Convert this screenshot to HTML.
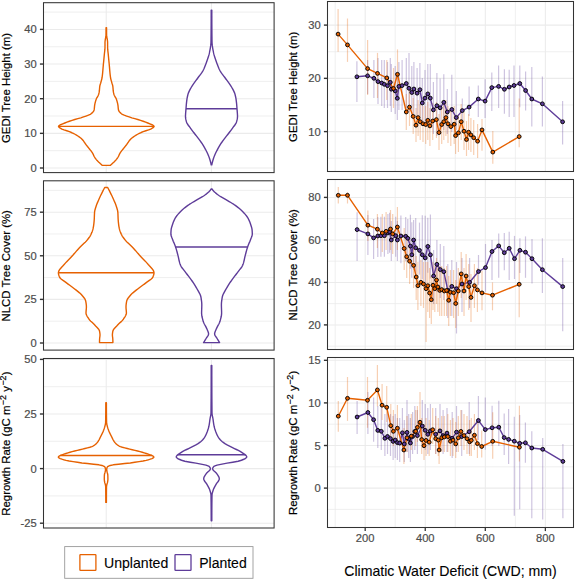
<!DOCTYPE html><html><head><meta charset="utf-8"><style>html,body{margin:0;padding:0;background:#fff;width:575px;height:580px;overflow:hidden}svg{display:block}text{font-family:"Liberation Sans", sans-serif}.tk{stroke:#4D4D4D;stroke-width:0.2px}.tt{stroke:#000;stroke-width:0.2px}.tl{stroke:#000;stroke-width:0.1px}</style></head><body>
<svg width="575" height="580" viewBox="0 0 575 580">
<rect width="575" height="580" fill="#fff"/>
<g>
<line x1="43.5" y1="150.68" x2="274.1" y2="150.68" stroke="#EBEBEB" stroke-width="0.8"/>
<line x1="43.5" y1="116.03" x2="274.1" y2="116.03" stroke="#EBEBEB" stroke-width="0.8"/>
<line x1="43.5" y1="81.38" x2="274.1" y2="81.38" stroke="#EBEBEB" stroke-width="0.8"/>
<line x1="43.5" y1="46.73" x2="274.1" y2="46.73" stroke="#EBEBEB" stroke-width="0.8"/>
<line x1="43.5" y1="12.08" x2="274.1" y2="12.08" stroke="#EBEBEB" stroke-width="0.8"/>
<line x1="43.5" y1="168" x2="274.1" y2="168" stroke="#EBEBEB" stroke-width="1.05"/>
<line x1="43.5" y1="133.35" x2="274.1" y2="133.35" stroke="#EBEBEB" stroke-width="1.05"/>
<line x1="43.5" y1="98.7" x2="274.1" y2="98.7" stroke="#EBEBEB" stroke-width="1.05"/>
<line x1="43.5" y1="64.05" x2="274.1" y2="64.05" stroke="#EBEBEB" stroke-width="1.05"/>
<line x1="43.5" y1="29.4" x2="274.1" y2="29.4" stroke="#EBEBEB" stroke-width="1.05"/>
<line x1="106.2" y1="2.7" x2="106.2" y2="172.6" stroke="#EBEBEB" stroke-width="1.05"/>
<line x1="211.4" y1="2.7" x2="211.4" y2="172.6" stroke="#EBEBEB" stroke-width="1.05"/>
<path d="M106.05,27.8 L106.05,28.67 L106.05,29.53 L106.04,30.4 L106.04,31.26 L106.04,32.13 L106.03,32.99 L106.02,33.86 L106.01,34.72 L106,35.59 L105.91,36.45 L105.75,37.32 L105.55,38.18 L105.37,39.05 L105.25,39.92 L105.13,40.78 L105.04,41.65 L105,42.51 L105,43.38 L105,44.24 L105,45.11 L105,45.97 L105,46.84 L104.99,47.7 L104.95,48.57 L104.89,49.44 L104.8,50.3 L104.71,51.17 L104.61,52.03 L104.51,52.9 L104.41,53.76 L104.32,54.63 L104.24,55.49 L104.15,56.36 L104.07,57.22 L103.99,58.09 L103.91,58.95 L103.82,59.82 L103.74,60.69 L103.66,61.55 L103.57,62.42 L103.49,63.28 L103.4,64.15 L103.32,65.01 L103.24,65.88 L103.16,66.74 L103.08,67.61 L103.01,68.47 L102.94,69.34 L102.87,70.21 L102.8,71.07 L102.72,71.94 L102.65,72.8 L102.56,73.67 L102.47,74.53 L102.37,75.4 L102.26,76.26 L102.14,77.13 L102,77.99 L101.82,78.86 L101.6,79.72 L101.36,80.59 L101.12,81.46 L100.88,82.32 L100.63,83.19 L100.35,84.05 L100.07,84.92 L99.86,85.78 L99.73,86.65 L99.64,87.51 L99.57,88.38 L99.5,89.24 L99.43,90.11 L99.34,90.97 L99.22,91.84 L99.05,92.71 L98.85,93.57 L98.61,94.44 L98.31,95.3 L97.86,96.17 L97.34,97.03 L96.82,97.9 L96.39,98.76 L96.08,99.63 L95.79,100.49 L95.53,101.36 L95.29,102.23 L95.08,103.09 L94.89,103.96 L94.73,104.82 L94.6,105.69 L94.51,106.55 L94.44,107.42 L94.36,108.28 L94.25,109.15 L94.1,110.01 L93.77,110.88 L93.19,111.74 L92.4,112.61 L91.45,113.48 L90.29,114.34 L88.42,115.21 L86.02,116.07 L83.48,116.94 L80.79,117.8 L77.79,118.67 L74.79,119.53 L72.07,120.4 L69.44,121.26 L66.97,122.13 L64.81,122.99 L62.71,123.86 L60.64,124.73 L59.07,125.59 L58.5,126.46 L59.08,127.32 L60.37,128.19 L61.89,129.05 L64.01,129.92 L66.74,130.78 L69.4,131.65 L71.48,132.51 L73.32,133.38 L74.99,134.25 L76.48,135.11 L77.86,135.98 L79.15,136.84 L80.33,137.71 L81.35,138.57 L82.22,139.44 L82.96,140.3 L83.63,141.17 L84.23,142.03 L84.82,142.9 L85.4,143.76 L86.02,144.63 L86.69,145.5 L87.38,146.36 L88.08,147.23 L88.78,148.09 L89.47,148.96 L90.15,149.82 L90.84,150.69 L91.51,151.55 L92.13,152.42 L92.66,153.28 L93.11,154.15 L93.5,155.02 L93.9,155.88 L94.35,156.75 L94.89,157.61 L95.5,158.48 L96.17,159.34 L96.9,160.21 L97.67,161.07 L98.53,161.94 L99.48,162.8 L100.44,163.67 L101.37,164.53 L102.3,165.4 L110.3,165.4 L111.23,164.53 L112.16,163.67 L113.12,162.8 L114.07,161.94 L114.93,161.07 L115.7,160.21 L116.43,159.34 L117.1,158.48 L117.71,157.61 L118.25,156.75 L118.7,155.88 L119.1,155.02 L119.49,154.15 L119.94,153.28 L120.47,152.42 L121.09,151.55 L121.76,150.69 L122.45,149.82 L123.13,148.96 L123.82,148.09 L124.52,147.23 L125.22,146.36 L125.91,145.5 L126.58,144.63 L127.2,143.76 L127.78,142.9 L128.37,142.03 L128.97,141.17 L129.64,140.3 L130.38,139.44 L131.25,138.57 L132.27,137.71 L133.45,136.84 L134.74,135.98 L136.12,135.11 L137.61,134.25 L139.28,133.38 L141.12,132.51 L143.2,131.65 L145.86,130.78 L148.59,129.92 L150.71,129.05 L152.23,128.19 L153.52,127.32 L154.1,126.46 L153.53,125.59 L151.96,124.73 L149.89,123.86 L147.79,122.99 L145.63,122.13 L143.16,121.26 L140.53,120.4 L137.81,119.53 L134.81,118.67 L131.81,117.8 L129.12,116.94 L126.58,116.07 L124.18,115.21 L122.31,114.34 L121.15,113.48 L120.2,112.61 L119.41,111.74 L118.83,110.88 L118.5,110.01 L118.35,109.15 L118.24,108.28 L118.16,107.42 L118.09,106.55 L118,105.69 L117.87,104.82 L117.71,103.96 L117.52,103.09 L117.31,102.23 L117.07,101.36 L116.81,100.49 L116.52,99.63 L116.21,98.76 L115.78,97.9 L115.26,97.03 L114.74,96.17 L114.29,95.3 L113.99,94.44 L113.75,93.57 L113.55,92.71 L113.38,91.84 L113.26,90.97 L113.17,90.11 L113.1,89.24 L113.03,88.38 L112.96,87.51 L112.87,86.65 L112.74,85.78 L112.53,84.92 L112.25,84.05 L111.97,83.19 L111.72,82.32 L111.48,81.46 L111.24,80.59 L111,79.72 L110.78,78.86 L110.6,77.99 L110.46,77.13 L110.34,76.26 L110.23,75.4 L110.13,74.53 L110.04,73.67 L109.95,72.8 L109.88,71.94 L109.8,71.07 L109.73,70.21 L109.66,69.34 L109.59,68.47 L109.52,67.61 L109.44,66.74 L109.36,65.88 L109.28,65.01 L109.2,64.15 L109.11,63.28 L109.03,62.42 L108.94,61.55 L108.86,60.69 L108.78,59.82 L108.69,58.95 L108.61,58.09 L108.53,57.22 L108.45,56.36 L108.36,55.49 L108.28,54.63 L108.19,53.76 L108.09,52.9 L107.99,52.03 L107.89,51.17 L107.8,50.3 L107.71,49.44 L107.65,48.57 L107.61,47.7 L107.6,46.84 L107.6,45.97 L107.6,45.11 L107.6,44.24 L107.6,43.38 L107.6,42.51 L107.56,41.65 L107.47,40.78 L107.35,39.92 L107.23,39.05 L107.05,38.18 L106.85,37.32 L106.69,36.45 L106.6,35.59 L106.59,34.72 L106.58,33.86 L106.57,32.99 L106.56,32.13 L106.56,31.26 L106.56,30.4 L106.55,29.53 L106.55,28.67 L106.55,27.8Z" fill="#fff" stroke="#E66101" stroke-width="1.4" stroke-linejoin="round"/>
<line x1="58.5" y1="126.4" x2="154.1" y2="126.4" stroke="#E66101" stroke-width="1.4"/>
<path d="M211.2,10.1 L211.2,11.07 L211.2,12.05 L211.2,13.02 L211.2,13.99 L211.2,14.97 L211.19,15.94 L211.19,16.92 L211.19,17.89 L211.19,18.86 L211.18,19.84 L211.18,20.81 L211.18,21.78 L211.17,22.76 L211.17,23.73 L211.16,24.7 L211.16,25.68 L211.15,26.65 L211.14,27.62 L211.14,28.6 L211.13,29.57 L211.12,30.55 L211.11,31.52 L211.11,32.49 L211.1,33.47 L211.09,34.44 L211.08,35.41 L211.07,36.39 L211.05,37.36 L211.04,38.33 L211.03,39.31 L211.02,40.28 L211,41.25 L210.98,42.23 L210.93,43.2 L210.85,44.18 L210.75,45.15 L210.62,46.12 L210.48,47.1 L210.32,48.07 L210.15,49.04 L209.97,50.02 L209.79,50.99 L209.6,51.96 L209.41,52.94 L209.19,53.91 L208.94,54.88 L208.66,55.86 L208.35,56.83 L208.03,57.81 L207.7,58.78 L207.35,59.75 L207.01,60.73 L206.66,61.7 L206.32,62.67 L205.98,63.65 L205.63,64.62 L205.26,65.59 L204.88,66.57 L204.48,67.54 L204.06,68.52 L203.61,69.49 L203.12,70.46 L202.59,71.44 L201.97,72.41 L201.29,73.38 L200.56,74.36 L199.81,75.33 L199.06,76.3 L198.32,77.28 L197.62,78.25 L196.92,79.22 L196.2,80.2 L195.47,81.17 L194.75,82.15 L194.03,83.12 L193.34,84.09 L192.67,85.07 L192.04,86.04 L191.46,87.01 L190.92,87.99 L190.38,88.96 L189.85,89.93 L189.35,90.91 L188.89,91.88 L188.47,92.85 L188.12,93.83 L187.85,94.8 L187.62,95.78 L187.41,96.75 L187.22,97.72 L187.05,98.7 L186.89,99.67 L186.76,100.64 L186.63,101.62 L186.52,102.59 L186.42,103.56 L186.33,104.54 L186.25,105.51 L186.17,106.48 L186.09,107.46 L186.02,108.43 L185.94,109.41 L185.86,110.38 L185.78,111.35 L185.7,112.33 L185.63,113.3 L185.57,114.27 L185.52,115.25 L185.5,116.22 L185.52,117.19 L185.62,118.17 L185.78,119.14 L186,120.12 L186.25,121.09 L186.52,122.06 L186.91,123.04 L187.47,124.01 L188.14,124.98 L188.87,125.96 L189.6,126.93 L190.28,127.9 L190.98,128.88 L191.7,129.85 L192.44,130.82 L193.18,131.8 L193.94,132.77 L194.69,133.75 L195.44,134.72 L196.19,135.69 L196.95,136.67 L197.72,137.64 L198.49,138.61 L199.25,139.59 L199.98,140.56 L200.68,141.53 L201.34,142.51 L201.99,143.48 L202.61,144.45 L203.22,145.43 L203.81,146.4 L204.38,147.38 L204.93,148.35 L205.46,149.32 L205.97,150.3 L206.48,151.27 L206.97,152.24 L207.44,153.22 L207.89,154.19 L208.31,155.16 L208.7,156.14 L209.04,157.11 L209.38,158.08 L209.69,159.06 L210,160.03 L210.28,161.01 L210.55,161.98 L210.79,162.95 L211.01,163.93 L211.2,164.9 L211.8,164.9 L211.99,163.93 L212.21,162.95 L212.45,161.98 L212.72,161.01 L213,160.03 L213.31,159.06 L213.62,158.08 L213.96,157.11 L214.3,156.14 L214.69,155.16 L215.11,154.19 L215.56,153.22 L216.03,152.24 L216.52,151.27 L217.03,150.3 L217.54,149.32 L218.07,148.35 L218.62,147.38 L219.19,146.4 L219.78,145.43 L220.39,144.45 L221.01,143.48 L221.66,142.51 L222.32,141.53 L223.02,140.56 L223.75,139.59 L224.51,138.61 L225.28,137.64 L226.05,136.67 L226.81,135.69 L227.56,134.72 L228.31,133.75 L229.06,132.77 L229.82,131.8 L230.56,130.82 L231.3,129.85 L232.02,128.88 L232.72,127.9 L233.4,126.93 L234.13,125.96 L234.86,124.98 L235.53,124.01 L236.09,123.04 L236.48,122.06 L236.75,121.09 L237,120.12 L237.22,119.14 L237.38,118.17 L237.48,117.19 L237.5,116.22 L237.48,115.25 L237.43,114.27 L237.37,113.3 L237.3,112.33 L237.22,111.35 L237.14,110.38 L237.06,109.41 L236.98,108.43 L236.91,107.46 L236.83,106.48 L236.75,105.51 L236.67,104.54 L236.58,103.56 L236.48,102.59 L236.37,101.62 L236.24,100.64 L236.11,99.67 L235.95,98.7 L235.78,97.72 L235.59,96.75 L235.38,95.78 L235.15,94.8 L234.88,93.83 L234.53,92.85 L234.11,91.88 L233.65,90.91 L233.15,89.93 L232.62,88.96 L232.08,87.99 L231.54,87.01 L230.96,86.04 L230.33,85.07 L229.66,84.09 L228.97,83.12 L228.25,82.15 L227.53,81.17 L226.8,80.2 L226.08,79.22 L225.38,78.25 L224.68,77.28 L223.94,76.3 L223.19,75.33 L222.44,74.36 L221.71,73.38 L221.03,72.41 L220.41,71.44 L219.88,70.46 L219.39,69.49 L218.94,68.52 L218.52,67.54 L218.12,66.57 L217.74,65.59 L217.37,64.62 L217.02,63.65 L216.68,62.67 L216.34,61.7 L215.99,60.73 L215.65,59.75 L215.3,58.78 L214.97,57.81 L214.65,56.83 L214.34,55.86 L214.06,54.88 L213.81,53.91 L213.59,52.94 L213.4,51.96 L213.21,50.99 L213.03,50.02 L212.85,49.04 L212.68,48.07 L212.52,47.1 L212.38,46.12 L212.25,45.15 L212.15,44.18 L212.07,43.2 L212.02,42.23 L212,41.25 L211.98,40.28 L211.97,39.31 L211.96,38.33 L211.95,37.36 L211.93,36.39 L211.92,35.41 L211.91,34.44 L211.9,33.47 L211.89,32.49 L211.89,31.52 L211.88,30.55 L211.87,29.57 L211.86,28.6 L211.86,27.62 L211.85,26.65 L211.84,25.68 L211.84,24.7 L211.83,23.73 L211.83,22.76 L211.82,21.78 L211.82,20.81 L211.82,19.84 L211.81,18.86 L211.81,17.89 L211.81,16.92 L211.81,15.94 L211.8,14.97 L211.8,13.99 L211.8,13.02 L211.8,12.05 L211.8,11.07 L211.8,10.1Z" fill="#fff" stroke="#5E3C99" stroke-width="1.4" stroke-linejoin="round"/>
<line x1="186" y1="108.7" x2="237" y2="108.7" stroke="#5E3C99" stroke-width="1.4"/>
<rect x="43.5" y="2.7" width="230.6" height="169.9" fill="none" stroke="#333333" stroke-width="1.05"/>
<line x1="39.9" y1="168" x2="43.5" y2="168" stroke="#333333" stroke-width="1.4"/>
<text class="tk" x="36.7" y="172" font-size="11.2" fill="#4D4D4D" text-anchor="end">0</text>
<line x1="39.9" y1="133.35" x2="43.5" y2="133.35" stroke="#333333" stroke-width="1.4"/>
<text class="tk" x="36.7" y="137.35" font-size="11.2" fill="#4D4D4D" text-anchor="end">10</text>
<line x1="39.9" y1="98.7" x2="43.5" y2="98.7" stroke="#333333" stroke-width="1.4"/>
<text class="tk" x="36.7" y="102.7" font-size="11.2" fill="#4D4D4D" text-anchor="end">20</text>
<line x1="39.9" y1="64.05" x2="43.5" y2="64.05" stroke="#333333" stroke-width="1.4"/>
<text class="tk" x="36.7" y="68.05" font-size="11.2" fill="#4D4D4D" text-anchor="end">30</text>
<line x1="39.9" y1="29.4" x2="43.5" y2="29.4" stroke="#333333" stroke-width="1.4"/>
<text class="tk" x="36.7" y="33.4" font-size="11.2" fill="#4D4D4D" text-anchor="end">40</text>
<text class="tt" transform="translate(10.3,88) rotate(-90)" font-size="11.4" fill="#000" text-anchor="middle">GEDI Tree Height (m)</text>
</g>
<g>
<line x1="43.5" y1="321.2" x2="274.1" y2="321.2" stroke="#EBEBEB" stroke-width="0.8"/>
<line x1="43.5" y1="277.59" x2="274.1" y2="277.59" stroke="#EBEBEB" stroke-width="0.8"/>
<line x1="43.5" y1="233.98" x2="274.1" y2="233.98" stroke="#EBEBEB" stroke-width="0.8"/>
<line x1="43.5" y1="190.37" x2="274.1" y2="190.37" stroke="#EBEBEB" stroke-width="0.8"/>
<line x1="43.5" y1="343" x2="274.1" y2="343" stroke="#EBEBEB" stroke-width="1.05"/>
<line x1="43.5" y1="299.39" x2="274.1" y2="299.39" stroke="#EBEBEB" stroke-width="1.05"/>
<line x1="43.5" y1="255.78" x2="274.1" y2="255.78" stroke="#EBEBEB" stroke-width="1.05"/>
<line x1="43.5" y1="212.18" x2="274.1" y2="212.18" stroke="#EBEBEB" stroke-width="1.05"/>
<line x1="106.2" y1="180.8" x2="106.2" y2="350.1" stroke="#EBEBEB" stroke-width="1.05"/>
<line x1="211.4" y1="180.8" x2="211.4" y2="350.1" stroke="#EBEBEB" stroke-width="1.05"/>
<path d="M104.7,187.5 L104.19,188.48 L103.69,189.45 L103.19,190.43 L102.7,191.4 L102.21,192.38 L101.73,193.35 L101.25,194.33 L100.77,195.3 L100.3,196.28 L99.84,197.25 L99.39,198.23 L98.95,199.21 L98.52,200.18 L98.1,201.16 L97.68,202.13 L97.27,203.11 L96.88,204.08 L96.52,205.06 L96.19,206.03 L95.87,207.01 L95.54,207.98 L95.24,208.96 L94.97,209.94 L94.75,210.91 L94.61,211.89 L94.53,212.86 L94.47,213.84 L94.43,214.81 L94.39,215.79 L94.36,216.76 L94.32,217.74 L94.28,218.72 L94.22,219.69 L94.15,220.67 L94.07,221.64 L93.97,222.62 L93.86,223.59 L93.74,224.57 L93.61,225.54 L93.46,226.52 L93.29,227.49 L93.11,228.47 L92.87,229.45 L92.58,230.42 L92.25,231.4 L91.89,232.37 L91.48,233.35 L91.05,234.32 L90.54,235.3 L89.95,236.27 L89.29,237.25 L88.58,238.22 L87.83,239.2 L87.06,240.18 L86.21,241.15 L85.28,242.13 L84.29,243.1 L83.26,244.08 L82.21,245.05 L81.17,246.03 L80.17,247 L79.22,247.98 L78.33,248.95 L77.46,249.93 L76.61,250.91 L75.78,251.88 L74.95,252.86 L74.11,253.83 L73.27,254.81 L72.4,255.78 L71.49,256.76 L70.55,257.73 L69.59,258.71 L68.61,259.68 L67.65,260.66 L66.7,261.64 L65.8,262.61 L64.94,263.59 L64.13,264.56 L63.25,265.54 L62.33,266.51 L61.42,267.49 L60.55,268.46 L59.78,269.44 L59.14,270.42 L58.67,271.39 L58.43,272.37 L58.42,273.34 L58.58,274.32 L58.85,275.29 L59.2,276.27 L59.62,277.24 L60.34,278.22 L61.41,279.19 L62.7,280.17 L64.11,281.15 L65.52,282.12 L66.82,283.1 L68.09,284.07 L69.41,285.05 L70.75,286.02 L72.08,287 L73.38,287.97 L74.64,288.95 L75.87,289.92 L77.12,290.9 L78.34,291.88 L79.51,292.85 L80.59,293.83 L81.53,294.8 L82.37,295.78 L83.2,296.75 L83.98,297.73 L84.68,298.7 L85.24,299.68 L85.62,300.65 L85.82,301.63 L85.99,302.61 L86.14,303.58 L86.26,304.56 L86.35,305.53 L86.39,306.51 L86.39,307.48 L86.34,308.46 L86.26,309.43 L86.16,310.41 L86.07,311.38 L86.01,312.36 L86.01,313.34 L86.21,314.31 L86.6,315.29 L87.12,316.26 L87.73,317.24 L88.38,318.21 L89.03,319.19 L89.8,320.16 L90.73,321.14 L91.75,322.12 L92.8,323.09 L93.82,324.07 L94.74,325.04 L95.65,326.02 L96.62,326.99 L97.57,327.97 L98.42,328.94 L99.08,329.92 L99.48,330.89 L99.67,331.87 L99.83,332.85 L99.95,333.82 L100,334.8 L99.97,335.77 L99.86,336.75 L99.72,337.72 L99.62,338.7 L99.57,339.67 L99.54,340.65 L99.51,341.62 L99.5,342.6 L112.9,342.6 L112.89,341.62 L112.86,340.65 L112.83,339.67 L112.78,338.7 L112.68,337.72 L112.54,336.75 L112.43,335.77 L112.4,334.8 L112.45,333.82 L112.57,332.85 L112.73,331.87 L112.92,330.89 L113.32,329.92 L113.98,328.94 L114.83,327.97 L115.78,326.99 L116.75,326.02 L117.66,325.04 L118.58,324.07 L119.6,323.09 L120.65,322.12 L121.67,321.14 L122.6,320.16 L123.37,319.19 L124.02,318.21 L124.67,317.24 L125.28,316.26 L125.8,315.29 L126.19,314.31 L126.39,313.34 L126.39,312.36 L126.33,311.38 L126.24,310.41 L126.14,309.43 L126.06,308.46 L126.01,307.48 L126.01,306.51 L126.05,305.53 L126.14,304.56 L126.26,303.58 L126.41,302.61 L126.58,301.63 L126.78,300.65 L127.16,299.68 L127.72,298.7 L128.42,297.73 L129.2,296.75 L130.03,295.78 L130.87,294.8 L131.81,293.83 L132.89,292.85 L134.06,291.88 L135.28,290.9 L136.53,289.92 L137.76,288.95 L139.02,287.97 L140.32,287 L141.65,286.02 L142.99,285.05 L144.31,284.07 L145.58,283.1 L146.88,282.12 L148.29,281.15 L149.7,280.17 L150.99,279.19 L152.06,278.22 L152.78,277.24 L153.2,276.27 L153.55,275.29 L153.82,274.32 L153.98,273.34 L153.97,272.37 L153.73,271.39 L153.26,270.42 L152.62,269.44 L151.85,268.46 L150.98,267.49 L150.07,266.51 L149.15,265.54 L148.27,264.56 L147.46,263.59 L146.6,262.61 L145.7,261.64 L144.75,260.66 L143.79,259.68 L142.81,258.71 L141.85,257.73 L140.91,256.76 L140,255.78 L139.13,254.81 L138.29,253.83 L137.45,252.86 L136.62,251.88 L135.79,250.91 L134.94,249.93 L134.07,248.95 L133.18,247.98 L132.23,247 L131.23,246.03 L130.19,245.05 L129.14,244.08 L128.11,243.1 L127.12,242.13 L126.19,241.15 L125.34,240.18 L124.57,239.2 L123.82,238.22 L123.11,237.25 L122.45,236.27 L121.86,235.3 L121.35,234.32 L120.92,233.35 L120.51,232.37 L120.15,231.4 L119.82,230.42 L119.53,229.45 L119.29,228.47 L119.11,227.49 L118.94,226.52 L118.79,225.54 L118.66,224.57 L118.54,223.59 L118.43,222.62 L118.33,221.64 L118.25,220.67 L118.18,219.69 L118.12,218.72 L118.08,217.74 L118.04,216.76 L118.01,215.79 L117.97,214.81 L117.93,213.84 L117.87,212.86 L117.79,211.89 L117.65,210.91 L117.43,209.94 L117.16,208.96 L116.86,207.98 L116.53,207.01 L116.21,206.03 L115.88,205.06 L115.52,204.08 L115.13,203.11 L114.72,202.13 L114.3,201.16 L113.88,200.18 L113.45,199.21 L113.01,198.23 L112.56,197.25 L112.1,196.28 L111.63,195.3 L111.15,194.33 L110.67,193.35 L110.19,192.38 L109.7,191.4 L109.21,190.43 L108.71,189.45 L108.21,188.48 L107.7,187.5Z" fill="#fff" stroke="#E66101" stroke-width="1.4" stroke-linejoin="round"/>
<line x1="58.4" y1="272.8" x2="154" y2="272.8" stroke="#E66101" stroke-width="1.4"/>
<path d="M211.2,189 L210.47,189.97 L209.63,190.93 L208.7,191.9 L207.68,192.86 L206.53,193.83 L205.29,194.8 L203.94,195.76 L202.46,196.73 L200.77,197.69 L198.98,198.66 L197.24,199.63 L195.61,200.59 L193.99,201.56 L192.38,202.52 L190.82,203.49 L189.31,204.46 L187.9,205.42 L186.58,206.39 L185.32,207.35 L184.12,208.32 L182.97,209.29 L181.88,210.25 L180.87,211.22 L179.92,212.18 L179.02,213.15 L178.16,214.12 L177.34,215.08 L176.59,216.05 L175.9,217.02 L175.31,217.98 L174.79,218.95 L174.31,219.91 L173.88,220.88 L173.48,221.85 L173.11,222.81 L172.77,223.78 L172.45,224.74 L172.12,225.71 L171.81,226.68 L171.53,227.64 L171.3,228.61 L171.14,229.57 L171.06,230.54 L170.99,231.51 L170.94,232.47 L170.91,233.44 L170.92,234.4 L171.07,235.37 L171.34,236.34 L171.7,237.3 L172.11,238.27 L172.51,239.23 L172.87,240.2 L173.24,241.17 L173.64,242.13 L174.05,243.1 L174.46,244.06 L174.86,245.03 L175.24,246 L175.59,246.96 L175.9,247.93 L176.19,248.89 L176.47,249.86 L176.74,250.83 L177.01,251.79 L177.26,252.76 L177.51,253.72 L177.76,254.69 L178.01,255.66 L178.26,256.62 L178.48,257.59 L178.69,258.55 L178.89,259.52 L179.09,260.49 L179.31,261.45 L179.55,262.42 L179.83,263.38 L180.15,264.35 L180.55,265.32 L181.06,266.28 L181.68,267.25 L182.37,268.22 L183.11,269.18 L183.88,270.15 L184.65,271.11 L185.41,272.08 L186.13,273.05 L186.84,274.01 L187.58,274.98 L188.32,275.94 L189.07,276.91 L189.81,277.88 L190.55,278.84 L191.26,279.81 L191.94,280.77 L192.6,281.74 L193.25,282.71 L193.89,283.67 L194.51,284.64 L195.12,285.6 L195.71,286.57 L196.28,287.54 L196.83,288.5 L197.36,289.47 L197.91,290.43 L198.46,291.4 L199.01,292.37 L199.53,293.33 L200,294.3 L200.41,295.26 L200.72,296.23 L200.94,297.2 L201.11,298.16 L201.27,299.13 L201.41,300.09 L201.54,301.06 L201.65,302.03 L201.73,302.99 L201.78,303.96 L201.8,304.92 L201.79,305.89 L201.77,306.86 L201.74,307.82 L201.71,308.79 L201.67,309.75 L201.64,310.72 L201.61,311.69 L201.6,312.65 L201.61,313.62 L201.69,314.58 L201.81,315.55 L201.98,316.52 L202.19,317.48 L202.42,318.45 L202.67,319.42 L202.93,320.38 L203.2,321.35 L203.55,322.31 L203.98,323.28 L204.47,324.25 L204.99,325.21 L205.53,326.18 L206.04,327.14 L206.52,328.11 L206.93,329.08 L207.35,330.04 L207.78,331.01 L208.18,331.97 L208.47,332.94 L208.6,333.91 L208.42,334.87 L207.9,335.84 L207.21,336.8 L206.54,337.77 L205.97,338.74 L205.4,339.7 L204.81,340.67 L204.21,341.63 L203.6,342.6 L219.6,342.6 L218.99,341.63 L218.39,340.67 L217.8,339.7 L217.23,338.74 L216.66,337.77 L215.99,336.8 L215.3,335.84 L214.78,334.87 L214.6,333.91 L214.73,332.94 L215.02,331.97 L215.42,331.01 L215.85,330.04 L216.27,329.08 L216.68,328.11 L217.16,327.14 L217.67,326.18 L218.21,325.21 L218.73,324.25 L219.22,323.28 L219.65,322.31 L220,321.35 L220.27,320.38 L220.53,319.42 L220.78,318.45 L221.01,317.48 L221.22,316.52 L221.39,315.55 L221.51,314.58 L221.59,313.62 L221.6,312.65 L221.59,311.69 L221.56,310.72 L221.53,309.75 L221.49,308.79 L221.46,307.82 L221.43,306.86 L221.41,305.89 L221.4,304.92 L221.42,303.96 L221.47,302.99 L221.55,302.03 L221.66,301.06 L221.79,300.09 L221.93,299.13 L222.09,298.16 L222.26,297.2 L222.48,296.23 L222.79,295.26 L223.2,294.3 L223.67,293.33 L224.19,292.37 L224.74,291.4 L225.29,290.43 L225.84,289.47 L226.37,288.5 L226.92,287.54 L227.49,286.57 L228.08,285.6 L228.69,284.64 L229.31,283.67 L229.95,282.71 L230.6,281.74 L231.26,280.77 L231.94,279.81 L232.65,278.84 L233.39,277.88 L234.13,276.91 L234.88,275.94 L235.62,274.98 L236.36,274.01 L237.07,273.05 L237.79,272.08 L238.55,271.11 L239.32,270.15 L240.09,269.18 L240.83,268.22 L241.52,267.25 L242.14,266.28 L242.65,265.32 L243.05,264.35 L243.37,263.38 L243.65,262.42 L243.89,261.45 L244.11,260.49 L244.31,259.52 L244.51,258.55 L244.72,257.59 L244.94,256.62 L245.19,255.66 L245.44,254.69 L245.69,253.72 L245.94,252.76 L246.19,251.79 L246.46,250.83 L246.73,249.86 L247.01,248.89 L247.3,247.93 L247.61,246.96 L247.96,246 L248.34,245.03 L248.74,244.06 L249.15,243.1 L249.56,242.13 L249.96,241.17 L250.33,240.2 L250.69,239.23 L251.09,238.27 L251.5,237.3 L251.86,236.34 L252.13,235.37 L252.28,234.4 L252.29,233.44 L252.26,232.47 L252.21,231.51 L252.14,230.54 L252.06,229.57 L251.9,228.61 L251.67,227.64 L251.39,226.68 L251.08,225.71 L250.75,224.74 L250.43,223.78 L250.09,222.81 L249.72,221.85 L249.32,220.88 L248.89,219.91 L248.41,218.95 L247.89,217.98 L247.3,217.02 L246.61,216.05 L245.86,215.08 L245.04,214.12 L244.18,213.15 L243.28,212.18 L242.33,211.22 L241.32,210.25 L240.23,209.29 L239.08,208.32 L237.88,207.35 L236.62,206.39 L235.3,205.42 L233.89,204.46 L232.38,203.49 L230.82,202.52 L229.21,201.56 L227.59,200.59 L225.96,199.63 L224.22,198.66 L222.43,197.69 L220.74,196.73 L219.26,195.76 L217.91,194.8 L216.67,193.83 L215.52,192.86 L214.5,191.9 L213.57,190.93 L212.73,189.97 L212,189Z" fill="#fff" stroke="#5E3C99" stroke-width="1.4" stroke-linejoin="round"/>
<line x1="175.6" y1="247" x2="247.6" y2="247" stroke="#5E3C99" stroke-width="1.4"/>
<rect x="43.5" y="180.8" width="230.6" height="169.3" fill="none" stroke="#333333" stroke-width="1.05"/>
<line x1="39.9" y1="343" x2="43.5" y2="343" stroke="#333333" stroke-width="1.4"/>
<text class="tk" x="36.7" y="347" font-size="11.2" fill="#4D4D4D" text-anchor="end">0</text>
<line x1="39.9" y1="299.39" x2="43.5" y2="299.39" stroke="#333333" stroke-width="1.4"/>
<text class="tk" x="36.7" y="303.39" font-size="11.2" fill="#4D4D4D" text-anchor="end">25</text>
<line x1="39.9" y1="255.78" x2="43.5" y2="255.78" stroke="#333333" stroke-width="1.4"/>
<text class="tk" x="36.7" y="259.78" font-size="11.2" fill="#4D4D4D" text-anchor="end">50</text>
<line x1="39.9" y1="212.18" x2="43.5" y2="212.18" stroke="#333333" stroke-width="1.4"/>
<text class="tk" x="36.7" y="216.18" font-size="11.2" fill="#4D4D4D" text-anchor="end">75</text>
<text class="tt" transform="translate(10.3,265.8) rotate(-90)" font-size="11.4" fill="#000" text-anchor="middle">NLCD Tree Cover (%)</text>
</g>
<g>
<line x1="43.5" y1="495.9" x2="274.1" y2="495.9" stroke="#EBEBEB" stroke-width="0.8"/>
<line x1="43.5" y1="441.3" x2="274.1" y2="441.3" stroke="#EBEBEB" stroke-width="0.8"/>
<line x1="43.5" y1="386.7" x2="274.1" y2="386.7" stroke="#EBEBEB" stroke-width="0.8"/>
<line x1="43.5" y1="523.2" x2="274.1" y2="523.2" stroke="#EBEBEB" stroke-width="1.05"/>
<line x1="43.5" y1="468.6" x2="274.1" y2="468.6" stroke="#EBEBEB" stroke-width="1.05"/>
<line x1="43.5" y1="414" x2="274.1" y2="414" stroke="#EBEBEB" stroke-width="1.05"/>
<line x1="43.5" y1="359.4" x2="274.1" y2="359.4" stroke="#EBEBEB" stroke-width="1.05"/>
<line x1="106.2" y1="358.5" x2="106.2" y2="528" stroke="#EBEBEB" stroke-width="1.05"/>
<line x1="211.4" y1="358.5" x2="211.4" y2="528" stroke="#EBEBEB" stroke-width="1.05"/>
<path d="M105.8,402.8 L105.8,403.43 L105.8,404.05 L105.8,404.68 L105.8,405.31 L105.8,405.93 L105.8,406.56 L105.79,407.18 L105.79,407.81 L105.79,408.44 L105.79,409.06 L105.78,409.69 L105.78,410.32 L105.78,410.94 L105.77,411.57 L105.77,412.2 L105.76,412.82 L105.76,413.45 L105.75,414.08 L105.74,414.7 L105.74,415.33 L105.73,415.95 L105.72,416.58 L105.71,417.21 L105.7,417.83 L105.69,418.46 L105.68,419.09 L105.67,419.71 L105.66,420.34 L105.64,420.97 L105.63,421.59 L105.61,422.22 L105.6,422.85 L105.54,423.47 L105.42,424.1 L105.27,424.72 L105.11,425.35 L104.96,425.98 L104.8,426.6 L104.63,427.23 L104.44,427.86 L104.25,428.48 L104.04,429.11 L103.82,429.74 L103.59,430.36 L103.34,430.99 L103.08,431.62 L102.8,432.24 L102.51,432.87 L102.21,433.49 L101.9,434.12 L101.59,434.75 L101.27,435.37 L100.95,436 L100.64,436.63 L100.33,437.25 L100.03,437.88 L99.73,438.51 L99.43,439.13 L99.11,439.76 L98.76,440.38 L98.39,441.01 L97.97,441.64 L97.5,442.26 L96.98,442.89 L96.4,443.52 L95.74,444.14 L94.98,444.77 L94.11,445.4 L93.1,446.02 L91.82,446.65 L89.86,447.28 L87.46,447.9 L84.93,448.53 L82.53,449.15 L79.97,449.78 L77.29,450.41 L74.63,451.03 L72.14,451.66 L69.95,452.29 L67.99,452.91 L65.95,453.54 L63.93,454.17 L62.05,454.79 L60.43,455.42 L59.2,456.05 L58.46,456.67 L58.34,457.3 L58.97,457.92 L60.23,458.55 L61.93,459.18 L63.9,459.8 L66.05,460.43 L69.15,461.06 L73.09,461.68 L77.45,462.31 L81.89,462.94 L87.46,463.56 L93.62,464.19 L98.95,464.82 L102.01,465.44 L103.52,466.07 L104.61,466.69 L105.11,467.32 L105.27,467.95 L105.38,468.57 L105.46,469.2 L105.5,469.83 L105.46,470.45 L105.33,471.08 L105.17,471.71 L105.02,472.33 L104.85,472.96 L104.66,473.58 L104.51,474.21 L104.41,474.84 L104.38,475.46 L104.35,476.09 L104.33,476.72 L104.32,477.34 L104.31,477.97 L104.3,478.6 L104.3,479.22 L104.33,479.85 L104.39,480.48 L104.47,481.1 L104.56,481.73 L104.67,482.35 L104.86,482.98 L105.08,483.61 L105.26,484.23 L105.4,484.86 L105.52,485.49 L105.63,486.11 L105.69,486.74 L105.71,487.37 L105.72,487.99 L105.72,488.62 L105.73,489.25 L105.74,489.87 L105.75,490.5 L105.75,491.12 L105.76,491.75 L105.76,492.38 L105.77,493 L105.77,493.63 L105.78,494.26 L105.78,494.88 L105.78,495.51 L105.79,496.14 L105.79,496.76 L105.79,497.39 L105.79,498.02 L105.8,498.64 L105.8,499.27 L105.8,499.89 L105.8,500.52 L105.8,501.15 L105.8,501.77 L105.8,502.4 L106.4,502.4 L106.4,501.77 L106.4,501.15 L106.4,500.52 L106.4,499.89 L106.4,499.27 L106.4,498.64 L106.41,498.02 L106.41,497.39 L106.41,496.76 L106.41,496.14 L106.42,495.51 L106.42,494.88 L106.42,494.26 L106.43,493.63 L106.43,493 L106.44,492.38 L106.44,491.75 L106.45,491.12 L106.45,490.5 L106.46,489.87 L106.47,489.25 L106.48,488.62 L106.48,487.99 L106.49,487.37 L106.51,486.74 L106.57,486.11 L106.68,485.49 L106.8,484.86 L106.94,484.23 L107.12,483.61 L107.34,482.98 L107.53,482.35 L107.64,481.73 L107.73,481.1 L107.81,480.48 L107.87,479.85 L107.9,479.22 L107.9,478.6 L107.89,477.97 L107.88,477.34 L107.87,476.72 L107.85,476.09 L107.82,475.46 L107.79,474.84 L107.69,474.21 L107.54,473.58 L107.35,472.96 L107.18,472.33 L107.03,471.71 L106.87,471.08 L106.74,470.45 L106.7,469.83 L106.74,469.2 L106.82,468.57 L106.93,467.95 L107.09,467.32 L107.59,466.69 L108.68,466.07 L110.19,465.44 L113.25,464.82 L118.58,464.19 L124.74,463.56 L130.31,462.94 L134.75,462.31 L139.11,461.68 L143.05,461.06 L146.15,460.43 L148.3,459.8 L150.27,459.18 L151.97,458.55 L153.23,457.92 L153.86,457.3 L153.74,456.67 L153,456.05 L151.77,455.42 L150.15,454.79 L148.27,454.17 L146.25,453.54 L144.21,452.91 L142.25,452.29 L140.06,451.66 L137.57,451.03 L134.91,450.41 L132.23,449.78 L129.67,449.15 L127.27,448.53 L124.74,447.9 L122.34,447.28 L120.38,446.65 L119.1,446.02 L118.09,445.4 L117.22,444.77 L116.46,444.14 L115.8,443.52 L115.22,442.89 L114.7,442.26 L114.23,441.64 L113.81,441.01 L113.44,440.38 L113.09,439.76 L112.77,439.13 L112.47,438.51 L112.17,437.88 L111.87,437.25 L111.56,436.63 L111.25,436 L110.93,435.37 L110.61,434.75 L110.3,434.12 L109.99,433.49 L109.69,432.87 L109.4,432.24 L109.12,431.62 L108.86,430.99 L108.61,430.36 L108.38,429.74 L108.16,429.11 L107.95,428.48 L107.76,427.86 L107.57,427.23 L107.4,426.6 L107.24,425.98 L107.09,425.35 L106.93,424.72 L106.78,424.1 L106.66,423.47 L106.6,422.85 L106.59,422.22 L106.57,421.59 L106.56,420.97 L106.54,420.34 L106.53,419.71 L106.52,419.09 L106.51,418.46 L106.5,417.83 L106.49,417.21 L106.48,416.58 L106.47,415.95 L106.46,415.33 L106.46,414.7 L106.45,414.08 L106.44,413.45 L106.44,412.82 L106.43,412.2 L106.43,411.57 L106.42,410.94 L106.42,410.32 L106.42,409.69 L106.41,409.06 L106.41,408.44 L106.41,407.81 L106.41,407.18 L106.4,406.56 L106.4,405.93 L106.4,405.31 L106.4,404.68 L106.4,404.05 L106.4,403.43 L106.4,402.8Z" fill="#fff" stroke="#E66101" stroke-width="1.4" stroke-linejoin="round"/>
<line x1="60.25" y1="455.5" x2="151.95" y2="455.5" stroke="#E66101" stroke-width="1.4"/>
<path d="M211.2,365.5 L211.2,366.48 L211.2,367.45 L211.2,368.43 L211.2,369.41 L211.2,370.38 L211.2,371.36 L211.2,372.34 L211.2,373.31 L211.2,374.29 L211.2,375.27 L211.19,376.24 L211.19,377.22 L211.19,378.2 L211.19,379.17 L211.19,380.15 L211.19,381.13 L211.19,382.1 L211.18,383.08 L211.18,384.06 L211.18,385.03 L211.18,386.01 L211.17,386.99 L211.17,387.96 L211.17,388.94 L211.16,389.92 L211.16,390.89 L211.16,391.87 L211.15,392.85 L211.15,393.83 L211.14,394.8 L211.14,395.78 L211.13,396.76 L211.13,397.73 L211.12,398.71 L211.11,399.69 L211.11,400.66 L211.1,401.64 L211.09,402.62 L211.09,403.59 L211.08,404.57 L211.07,405.55 L211.06,406.52 L211.05,407.5 L211.05,408.48 L211.04,409.45 L211.03,410.43 L211.02,411.41 L211.01,412.38 L210.99,413.36 L210.89,414.34 L210.73,415.31 L210.52,416.29 L210.31,417.27 L210.13,418.24 L209.98,419.22 L209.84,420.2 L209.71,421.17 L209.58,422.15 L209.44,423.13 L209.29,424.1 L209.12,425.08 L208.92,426.06 L208.7,427.03 L208.44,428.01 L208.15,428.99 L207.83,429.96 L207.49,430.94 L207.13,431.92 L206.74,432.89 L206.34,433.87 L205.89,434.85 L205.4,435.82 L204.85,436.8 L204.24,437.78 L203.56,438.75 L202.75,439.73 L201.78,440.71 L200.66,441.68 L199.43,442.66 L198.05,443.64 L196.37,444.62 L194.46,445.59 L192.45,446.57 L190.49,447.55 L188.59,448.52 L186.61,449.5 L184.65,450.48 L182.85,451.45 L181.31,452.43 L179.81,453.41 L178.33,454.38 L177.09,455.36 L176.33,456.34 L176.31,457.31 L177.34,458.29 L179.2,459.27 L181.57,460.24 L184.82,461.22 L190.25,462.2 L195.87,463.17 L201,464.15 L205.97,465.13 L208.63,466.1 L209.67,467.08 L210.33,468.06 L210.48,469.03 L209.94,470.01 L208.94,470.99 L207.78,471.96 L206.77,472.94 L206.08,473.92 L205.41,474.89 L204.76,475.87 L204.22,476.85 L203.84,477.82 L203.7,478.8 L203.89,479.78 L204.38,480.75 L205.06,481.73 L205.81,482.71 L206.52,483.68 L207.1,484.66 L207.65,485.64 L208.21,486.61 L208.74,487.59 L209.22,488.57 L209.61,489.54 L209.94,490.52 L210.25,491.5 L210.54,492.47 L210.78,493.45 L210.94,494.43 L211,495.41 L211.02,496.38 L211.04,497.36 L211.05,498.34 L211.07,499.31 L211.08,500.29 L211.09,501.27 L211.11,502.24 L211.12,503.22 L211.13,504.2 L211.14,505.17 L211.15,506.15 L211.15,507.13 L211.16,508.1 L211.17,509.08 L211.17,510.06 L211.18,511.03 L211.18,512.01 L211.19,512.99 L211.19,513.96 L211.19,514.94 L211.2,515.92 L211.2,516.89 L211.2,517.87 L211.2,518.85 L211.2,519.82 L211.2,520.8 L211.8,520.8 L211.8,519.82 L211.8,518.85 L211.8,517.87 L211.8,516.89 L211.8,515.92 L211.81,514.94 L211.81,513.96 L211.81,512.99 L211.82,512.01 L211.82,511.03 L211.83,510.06 L211.83,509.08 L211.84,508.1 L211.85,507.13 L211.85,506.15 L211.86,505.17 L211.87,504.2 L211.88,503.22 L211.89,502.24 L211.91,501.27 L211.92,500.29 L211.93,499.31 L211.95,498.34 L211.96,497.36 L211.98,496.38 L212,495.41 L212.06,494.43 L212.22,493.45 L212.46,492.47 L212.75,491.5 L213.06,490.52 L213.39,489.54 L213.78,488.57 L214.26,487.59 L214.79,486.61 L215.35,485.64 L215.9,484.66 L216.48,483.68 L217.19,482.71 L217.94,481.73 L218.62,480.75 L219.11,479.78 L219.3,478.8 L219.16,477.82 L218.78,476.85 L218.24,475.87 L217.59,474.89 L216.92,473.92 L216.23,472.94 L215.22,471.96 L214.06,470.99 L213.06,470.01 L212.52,469.03 L212.67,468.06 L213.33,467.08 L214.37,466.1 L217.03,465.13 L222,464.15 L227.13,463.17 L232.75,462.2 L238.18,461.22 L241.43,460.24 L243.8,459.27 L245.66,458.29 L246.69,457.31 L246.67,456.34 L245.91,455.36 L244.67,454.38 L243.19,453.41 L241.69,452.43 L240.15,451.45 L238.35,450.48 L236.39,449.5 L234.41,448.52 L232.51,447.55 L230.55,446.57 L228.54,445.59 L226.63,444.62 L224.95,443.64 L223.57,442.66 L222.34,441.68 L221.22,440.71 L220.25,439.73 L219.44,438.75 L218.76,437.78 L218.15,436.8 L217.6,435.82 L217.11,434.85 L216.66,433.87 L216.26,432.89 L215.87,431.92 L215.51,430.94 L215.17,429.96 L214.85,428.99 L214.56,428.01 L214.3,427.03 L214.08,426.06 L213.88,425.08 L213.71,424.1 L213.56,423.13 L213.42,422.15 L213.29,421.17 L213.16,420.2 L213.02,419.22 L212.87,418.24 L212.69,417.27 L212.48,416.29 L212.27,415.31 L212.11,414.34 L212.01,413.36 L211.99,412.38 L211.98,411.41 L211.97,410.43 L211.96,409.45 L211.95,408.48 L211.95,407.5 L211.94,406.52 L211.93,405.55 L211.92,404.57 L211.91,403.59 L211.91,402.62 L211.9,401.64 L211.89,400.66 L211.89,399.69 L211.88,398.71 L211.87,397.73 L211.87,396.76 L211.86,395.78 L211.86,394.8 L211.85,393.83 L211.85,392.85 L211.84,391.87 L211.84,390.89 L211.84,389.92 L211.83,388.94 L211.83,387.96 L211.83,386.99 L211.82,386.01 L211.82,385.03 L211.82,384.06 L211.82,383.08 L211.81,382.1 L211.81,381.13 L211.81,380.15 L211.81,379.17 L211.81,378.2 L211.81,377.22 L211.81,376.24 L211.8,375.27 L211.8,374.29 L211.8,373.31 L211.8,372.34 L211.8,371.36 L211.8,370.38 L211.8,369.41 L211.8,368.43 L211.8,367.45 L211.8,366.48 L211.8,365.5Z" fill="#fff" stroke="#5E3C99" stroke-width="1.4" stroke-linejoin="round"/>
<line x1="177.89" y1="454.7" x2="245.11" y2="454.7" stroke="#5E3C99" stroke-width="1.4"/>
<rect x="43.5" y="358.5" width="230.6" height="169.5" fill="none" stroke="#333333" stroke-width="1.05"/>
<line x1="39.9" y1="523.2" x2="43.5" y2="523.2" stroke="#333333" stroke-width="1.4"/>
<text class="tk" x="36.7" y="527.2" font-size="11.2" fill="#4D4D4D" text-anchor="end">-25</text>
<line x1="39.9" y1="468.6" x2="43.5" y2="468.6" stroke="#333333" stroke-width="1.4"/>
<text class="tk" x="36.7" y="472.6" font-size="11.2" fill="#4D4D4D" text-anchor="end">0</text>
<line x1="39.9" y1="414" x2="43.5" y2="414" stroke="#333333" stroke-width="1.4"/>
<text class="tk" x="36.7" y="418" font-size="11.2" fill="#4D4D4D" text-anchor="end">25</text>
<line x1="39.9" y1="359.4" x2="43.5" y2="359.4" stroke="#333333" stroke-width="1.4"/>
<text class="tk" x="36.7" y="363.4" font-size="11.2" fill="#4D4D4D" text-anchor="end">50</text>
<text class="tt" transform="translate(10.3,443.6) rotate(-90)" font-size="11.4" fill="#000" text-anchor="middle">Regrowth Rate (gC m<tspan font-size="8.8" dx="0.4" dy="-4.4">−2</tspan><tspan dx="0.3" dy="4.4"> y</tspan><tspan font-size="8.8" dx="0.4" dy="-4.4">−2</tspan><tspan dx="0.3" dy="4.4">)</tspan></text>
</g>
<g>
<line x1="327.5" y1="158.22" x2="573.5" y2="158.22" stroke="#EBEBEB" stroke-width="0.8"/>
<line x1="327.5" y1="104.97" x2="573.5" y2="104.97" stroke="#EBEBEB" stroke-width="0.8"/>
<line x1="327.5" y1="51.72" x2="573.5" y2="51.72" stroke="#EBEBEB" stroke-width="0.8"/>
<line x1="335.16" y1="1.5" x2="335.16" y2="171.5" stroke="#EBEBEB" stroke-width="0.8"/>
<line x1="395.22" y1="1.5" x2="395.22" y2="171.5" stroke="#EBEBEB" stroke-width="0.8"/>
<line x1="455.28" y1="1.5" x2="455.28" y2="171.5" stroke="#EBEBEB" stroke-width="0.8"/>
<line x1="515.34" y1="1.5" x2="515.34" y2="171.5" stroke="#EBEBEB" stroke-width="0.8"/>
<line x1="327.5" y1="131.6" x2="573.5" y2="131.6" stroke="#EBEBEB" stroke-width="1.05"/>
<line x1="327.5" y1="78.35" x2="573.5" y2="78.35" stroke="#EBEBEB" stroke-width="1.05"/>
<line x1="327.5" y1="25.1" x2="573.5" y2="25.1" stroke="#EBEBEB" stroke-width="1.05"/>
<line x1="365.19" y1="1.5" x2="365.19" y2="171.5" stroke="#EBEBEB" stroke-width="1.05"/>
<line x1="425.25" y1="1.5" x2="425.25" y2="171.5" stroke="#EBEBEB" stroke-width="1.05"/>
<line x1="485.31" y1="1.5" x2="485.31" y2="171.5" stroke="#EBEBEB" stroke-width="1.05"/>
<line x1="545.37" y1="1.5" x2="545.37" y2="171.5" stroke="#EBEBEB" stroke-width="1.05"/>
<line x1="356.9" y1="61.2" x2="356.9" y2="102" stroke="#5E3C99" stroke-width="1.2" stroke-opacity="0.3"/>
<line x1="367.6" y1="60.1" x2="367.6" y2="94" stroke="#5E3C99" stroke-width="1.2" stroke-opacity="0.3"/>
<line x1="373.9" y1="60" x2="373.9" y2="98" stroke="#5E3C99" stroke-width="1.2" stroke-opacity="0.3"/>
<line x1="378" y1="58" x2="378" y2="104" stroke="#5E3C99" stroke-width="1.2" stroke-opacity="0.3"/>
<line x1="381.7" y1="60" x2="381.7" y2="106" stroke="#5E3C99" stroke-width="1.2" stroke-opacity="0.3"/>
<line x1="384.3" y1="60" x2="384.3" y2="108" stroke="#5E3C99" stroke-width="1.2" stroke-opacity="0.3"/>
<line x1="387.5" y1="62" x2="387.5" y2="108" stroke="#5E3C99" stroke-width="1.2" stroke-opacity="0.3"/>
<line x1="390.3" y1="58" x2="390.3" y2="106" stroke="#5E3C99" stroke-width="1.2" stroke-opacity="0.3"/>
<line x1="391.3" y1="64" x2="391.3" y2="112" stroke="#5E3C99" stroke-width="1.2" stroke-opacity="0.3"/>
<line x1="395.2" y1="66" x2="395.2" y2="114" stroke="#5E3C99" stroke-width="1.2" stroke-opacity="0.3"/>
<line x1="397.3" y1="74" x2="397.3" y2="120" stroke="#5E3C99" stroke-width="1.2" stroke-opacity="0.3"/>
<line x1="398.9" y1="62" x2="398.9" y2="110" stroke="#5E3C99" stroke-width="1.2" stroke-opacity="0.3"/>
<line x1="402.1" y1="60" x2="402.1" y2="110" stroke="#5E3C99" stroke-width="1.2" stroke-opacity="0.3"/>
<line x1="406.3" y1="58" x2="406.3" y2="108" stroke="#5E3C99" stroke-width="1.2" stroke-opacity="0.3"/>
<line x1="409" y1="53" x2="409" y2="112" stroke="#5E3C99" stroke-width="1.2" stroke-opacity="0.3"/>
<line x1="411.8" y1="66" x2="411.8" y2="118" stroke="#5E3C99" stroke-width="1.2" stroke-opacity="0.3"/>
<line x1="413.9" y1="62" x2="413.9" y2="114" stroke="#5E3C99" stroke-width="1.2" stroke-opacity="0.3"/>
<line x1="417.1" y1="68" x2="417.1" y2="118" stroke="#5E3C99" stroke-width="1.2" stroke-opacity="0.3"/>
<line x1="419.9" y1="63" x2="419.9" y2="116" stroke="#5E3C99" stroke-width="1.2" stroke-opacity="0.3"/>
<line x1="422.3" y1="78" x2="422.3" y2="126" stroke="#5E3C99" stroke-width="1.2" stroke-opacity="0.3"/>
<line x1="425" y1="70" x2="425" y2="124" stroke="#5E3C99" stroke-width="1.2" stroke-opacity="0.3"/>
<line x1="427.8" y1="64" x2="427.8" y2="122" stroke="#5E3C99" stroke-width="1.2" stroke-opacity="0.3"/>
<line x1="430.3" y1="64" x2="430.3" y2="128" stroke="#5E3C99" stroke-width="1.2" stroke-opacity="0.3"/>
<line x1="433.4" y1="82" x2="433.4" y2="134" stroke="#5E3C99" stroke-width="1.2" stroke-opacity="0.3"/>
<line x1="436.9" y1="72.9" x2="436.9" y2="136" stroke="#5E3C99" stroke-width="1.2" stroke-opacity="0.3"/>
<line x1="440.1" y1="78.4" x2="440.1" y2="134" stroke="#5E3C99" stroke-width="1.2" stroke-opacity="0.3"/>
<line x1="443.8" y1="74.3" x2="443.8" y2="130" stroke="#5E3C99" stroke-width="1.2" stroke-opacity="0.3"/>
<line x1="447.3" y1="88.9" x2="447.3" y2="134" stroke="#5E3C99" stroke-width="1.2" stroke-opacity="0.3"/>
<line x1="451.8" y1="74.7" x2="451.8" y2="132" stroke="#5E3C99" stroke-width="1.2" stroke-opacity="0.3"/>
<line x1="456.3" y1="91" x2="456.3" y2="130" stroke="#5E3C99" stroke-width="1.2" stroke-opacity="0.3"/>
<line x1="462.3" y1="98.6" x2="462.3" y2="123.5" stroke="#5E3C99" stroke-width="1.2" stroke-opacity="0.3"/>
<line x1="469.1" y1="86.5" x2="469.1" y2="116" stroke="#5E3C99" stroke-width="1.2" stroke-opacity="0.3"/>
<line x1="478.3" y1="85.5" x2="478.3" y2="116.9" stroke="#5E3C99" stroke-width="1.2" stroke-opacity="0.3"/>
<line x1="485.1" y1="79.3" x2="485.1" y2="117.9" stroke="#5E3C99" stroke-width="1.2" stroke-opacity="0.3"/>
<line x1="491.8" y1="72.5" x2="491.8" y2="111.1" stroke="#5E3C99" stroke-width="1.2" stroke-opacity="0.3"/>
<line x1="498.6" y1="65.4" x2="498.6" y2="107.9" stroke="#5E3C99" stroke-width="1.2" stroke-opacity="0.3"/>
<line x1="504.4" y1="69.3" x2="504.4" y2="113.7" stroke="#5E3C99" stroke-width="1.2" stroke-opacity="0.3"/>
<line x1="509.2" y1="69.7" x2="509.2" y2="116.9" stroke="#5E3C99" stroke-width="1.2" stroke-opacity="0.3"/>
<line x1="514" y1="65.4" x2="514" y2="116.9" stroke="#5E3C99" stroke-width="1.2" stroke-opacity="0.3"/>
<line x1="519.8" y1="65.4" x2="519.8" y2="107.3" stroke="#5E3C99" stroke-width="1.2" stroke-opacity="0.3"/>
<line x1="525.6" y1="71.6" x2="525.6" y2="110.6" stroke="#5E3C99" stroke-width="1.2" stroke-opacity="0.3"/>
<line x1="531.8" y1="67.1" x2="531.8" y2="126.6" stroke="#5E3C99" stroke-width="1.2" stroke-opacity="0.3"/>
<line x1="542.4" y1="76.4" x2="542.4" y2="126.6" stroke="#5E3C99" stroke-width="1.2" stroke-opacity="0.3"/>
<line x1="562.6" y1="100.9" x2="562.6" y2="144.5" stroke="#5E3C99" stroke-width="1.2" stroke-opacity="0.3"/>
<line x1="338.1" y1="9" x2="338.1" y2="51.8" stroke="#E66101" stroke-width="1.2" stroke-opacity="0.3"/>
<line x1="347.5" y1="18.5" x2="347.5" y2="61.9" stroke="#E66101" stroke-width="1.2" stroke-opacity="0.3"/>
<line x1="367.6" y1="40.1" x2="367.6" y2="95" stroke="#E66101" stroke-width="1.2" stroke-opacity="0.3"/>
<line x1="377.5" y1="52.9" x2="377.5" y2="98" stroke="#E66101" stroke-width="1.2" stroke-opacity="0.3"/>
<line x1="386.8" y1="60" x2="386.8" y2="100" stroke="#E66101" stroke-width="1.2" stroke-opacity="0.3"/>
<line x1="393.5" y1="68" x2="393.5" y2="108" stroke="#E66101" stroke-width="1.2" stroke-opacity="0.3"/>
<line x1="397.5" y1="49.4" x2="397.5" y2="100" stroke="#E66101" stroke-width="1.2" stroke-opacity="0.3"/>
<line x1="406.3" y1="94" x2="406.3" y2="130" stroke="#E66101" stroke-width="1.2" stroke-opacity="0.3"/>
<line x1="409.5" y1="90" x2="409.5" y2="126" stroke="#E66101" stroke-width="1.2" stroke-opacity="0.3"/>
<line x1="413.2" y1="98" x2="413.2" y2="134" stroke="#E66101" stroke-width="1.2" stroke-opacity="0.3"/>
<line x1="416" y1="108" x2="416" y2="142" stroke="#E66101" stroke-width="1.2" stroke-opacity="0.3"/>
<line x1="418.1" y1="100" x2="418.1" y2="136" stroke="#E66101" stroke-width="1.2" stroke-opacity="0.3"/>
<line x1="420.2" y1="104" x2="420.2" y2="140" stroke="#E66101" stroke-width="1.2" stroke-opacity="0.3"/>
<line x1="423" y1="106" x2="423" y2="142" stroke="#E66101" stroke-width="1.2" stroke-opacity="0.3"/>
<line x1="425.7" y1="106" x2="425.7" y2="144" stroke="#E66101" stroke-width="1.2" stroke-opacity="0.3"/>
<line x1="427.8" y1="102" x2="427.8" y2="140" stroke="#E66101" stroke-width="1.2" stroke-opacity="0.3"/>
<line x1="429.9" y1="108" x2="429.9" y2="146" stroke="#E66101" stroke-width="1.2" stroke-opacity="0.3"/>
<line x1="432.7" y1="103" x2="432.7" y2="140" stroke="#E66101" stroke-width="1.2" stroke-opacity="0.3"/>
<line x1="436.4" y1="102" x2="436.4" y2="138" stroke="#E66101" stroke-width="1.2" stroke-opacity="0.3"/>
<line x1="439" y1="114" x2="439" y2="150" stroke="#E66101" stroke-width="1.2" stroke-opacity="0.3"/>
<line x1="441.7" y1="106" x2="441.7" y2="144" stroke="#E66101" stroke-width="1.2" stroke-opacity="0.3"/>
<line x1="443.8" y1="103" x2="443.8" y2="140" stroke="#E66101" stroke-width="1.2" stroke-opacity="0.3"/>
<line x1="445.9" y1="100" x2="445.9" y2="136" stroke="#E66101" stroke-width="1.2" stroke-opacity="0.3"/>
<line x1="448" y1="106" x2="448" y2="143" stroke="#E66101" stroke-width="1.2" stroke-opacity="0.3"/>
<line x1="450.8" y1="108" x2="450.8" y2="146" stroke="#E66101" stroke-width="1.2" stroke-opacity="0.3"/>
<line x1="454.2" y1="106" x2="454.2" y2="144" stroke="#E66101" stroke-width="1.2" stroke-opacity="0.3"/>
<line x1="455.6" y1="116" x2="455.6" y2="154" stroke="#E66101" stroke-width="1.2" stroke-opacity="0.3"/>
<line x1="458.4" y1="114" x2="458.4" y2="152" stroke="#E66101" stroke-width="1.2" stroke-opacity="0.3"/>
<line x1="461.2" y1="104" x2="461.2" y2="140" stroke="#E66101" stroke-width="1.2" stroke-opacity="0.3"/>
<line x1="464" y1="112" x2="464" y2="150" stroke="#E66101" stroke-width="1.2" stroke-opacity="0.3"/>
<line x1="466.5" y1="121" x2="466.5" y2="156" stroke="#E66101" stroke-width="1.2" stroke-opacity="0.3"/>
<line x1="468.6" y1="114" x2="468.6" y2="150" stroke="#E66101" stroke-width="1.2" stroke-opacity="0.3"/>
<line x1="470.9" y1="118" x2="470.9" y2="152" stroke="#E66101" stroke-width="1.2" stroke-opacity="0.3"/>
<line x1="473.7" y1="120" x2="473.7" y2="155" stroke="#E66101" stroke-width="1.2" stroke-opacity="0.3"/>
<line x1="477.6" y1="124" x2="477.6" y2="158" stroke="#E66101" stroke-width="1.2" stroke-opacity="0.3"/>
<line x1="482" y1="118.9" x2="482" y2="150.7" stroke="#E66101" stroke-width="1.2" stroke-opacity="0.3"/>
<line x1="492.8" y1="131" x2="492.8" y2="163.8" stroke="#E66101" stroke-width="1.2" stroke-opacity="0.3"/>
<line x1="519.2" y1="98.6" x2="519.2" y2="147.2" stroke="#E66101" stroke-width="1.2" stroke-opacity="0.3"/>
<polyline points="356.9,76.8 367.6,75.8 373.9,78.3 378,81.6 381.7,83 384.3,84.3 387.5,85.7 390.3,82.3 391.3,89.2 395.2,90.9 397.3,98.3 398.9,86.4 402.1,85.6 406.3,83.5 409,88.3 411.8,92.5 413.9,89 417.1,93.2 419.9,89.7 422.3,103 425,98.1 427.8,93.9 430.3,98.1 433.4,109.9 436.9,105.7 440.1,107.8 443.8,102.3 447.3,112 451.8,109.5 456.3,117.6 462.3,110.6 469.1,107.1 478.3,99 485.1,101.1 491.8,87.6 498.6,86.4 504.4,89.3 509.2,87 514,85.5 519.8,83.5 525.6,90.5 531.8,99 542.4,103.8 562.6,121.8" fill="none" stroke="#5E3C99" stroke-width="1.4" stroke-linejoin="round"/>
<polyline points="338.1,34.1 347.5,44.9 367.6,68.6 377.5,73.4 386.8,77.9 393.5,88.5 397.5,74.3 406.3,112 409.5,107.1 413.2,116.4 416,125.2 418.1,117.6 420.2,121.7 423,123.8 425.7,124.5 427.8,120.3 429.9,125.9 432.7,121 436.4,119.6 439,132.6 441.7,124.5 443.8,121.7 445.9,117.6 448,123.8 450.8,126.6 454.2,124.2 455.6,135.6 458.4,132.9 461.2,121.7 464,131.2 466.5,139.5 468.6,132.2 470.9,134.9 473.7,137.7 477.6,141.2 482,129.9 492.8,152.1 519.2,136.6" fill="none" stroke="#E66101" stroke-width="1.4" stroke-linejoin="round"/>
<circle cx="356.9" cy="76.8" r="1.9" fill="#5E3C99" stroke="#000" stroke-width="0.95"/>
<circle cx="367.6" cy="75.8" r="1.9" fill="#5E3C99" stroke="#000" stroke-width="0.95"/>
<circle cx="373.9" cy="78.3" r="1.9" fill="#5E3C99" stroke="#000" stroke-width="0.95"/>
<circle cx="378" cy="81.6" r="1.9" fill="#5E3C99" stroke="#000" stroke-width="0.95"/>
<circle cx="381.7" cy="83" r="1.9" fill="#5E3C99" stroke="#000" stroke-width="0.95"/>
<circle cx="384.3" cy="84.3" r="1.9" fill="#5E3C99" stroke="#000" stroke-width="0.95"/>
<circle cx="387.5" cy="85.7" r="1.9" fill="#5E3C99" stroke="#000" stroke-width="0.95"/>
<circle cx="390.3" cy="82.3" r="1.9" fill="#5E3C99" stroke="#000" stroke-width="0.95"/>
<circle cx="391.3" cy="89.2" r="1.9" fill="#5E3C99" stroke="#000" stroke-width="0.95"/>
<circle cx="395.2" cy="90.9" r="1.9" fill="#5E3C99" stroke="#000" stroke-width="0.95"/>
<circle cx="397.3" cy="98.3" r="1.9" fill="#5E3C99" stroke="#000" stroke-width="0.95"/>
<circle cx="398.9" cy="86.4" r="1.9" fill="#5E3C99" stroke="#000" stroke-width="0.95"/>
<circle cx="402.1" cy="85.6" r="1.9" fill="#5E3C99" stroke="#000" stroke-width="0.95"/>
<circle cx="406.3" cy="83.5" r="1.9" fill="#5E3C99" stroke="#000" stroke-width="0.95"/>
<circle cx="409" cy="88.3" r="1.9" fill="#5E3C99" stroke="#000" stroke-width="0.95"/>
<circle cx="411.8" cy="92.5" r="1.9" fill="#5E3C99" stroke="#000" stroke-width="0.95"/>
<circle cx="413.9" cy="89" r="1.9" fill="#5E3C99" stroke="#000" stroke-width="0.95"/>
<circle cx="417.1" cy="93.2" r="1.9" fill="#5E3C99" stroke="#000" stroke-width="0.95"/>
<circle cx="419.9" cy="89.7" r="1.9" fill="#5E3C99" stroke="#000" stroke-width="0.95"/>
<circle cx="422.3" cy="103" r="1.9" fill="#5E3C99" stroke="#000" stroke-width="0.95"/>
<circle cx="425" cy="98.1" r="1.9" fill="#5E3C99" stroke="#000" stroke-width="0.95"/>
<circle cx="427.8" cy="93.9" r="1.9" fill="#5E3C99" stroke="#000" stroke-width="0.95"/>
<circle cx="430.3" cy="98.1" r="1.9" fill="#5E3C99" stroke="#000" stroke-width="0.95"/>
<circle cx="433.4" cy="109.9" r="1.9" fill="#5E3C99" stroke="#000" stroke-width="0.95"/>
<circle cx="436.9" cy="105.7" r="1.9" fill="#5E3C99" stroke="#000" stroke-width="0.95"/>
<circle cx="440.1" cy="107.8" r="1.9" fill="#5E3C99" stroke="#000" stroke-width="0.95"/>
<circle cx="443.8" cy="102.3" r="1.9" fill="#5E3C99" stroke="#000" stroke-width="0.95"/>
<circle cx="447.3" cy="112" r="1.9" fill="#5E3C99" stroke="#000" stroke-width="0.95"/>
<circle cx="451.8" cy="109.5" r="1.9" fill="#5E3C99" stroke="#000" stroke-width="0.95"/>
<circle cx="456.3" cy="117.6" r="1.9" fill="#5E3C99" stroke="#000" stroke-width="0.95"/>
<circle cx="462.3" cy="110.6" r="1.9" fill="#5E3C99" stroke="#000" stroke-width="0.95"/>
<circle cx="469.1" cy="107.1" r="1.9" fill="#5E3C99" stroke="#000" stroke-width="0.95"/>
<circle cx="478.3" cy="99" r="1.9" fill="#5E3C99" stroke="#000" stroke-width="0.95"/>
<circle cx="485.1" cy="101.1" r="1.9" fill="#5E3C99" stroke="#000" stroke-width="0.95"/>
<circle cx="491.8" cy="87.6" r="1.9" fill="#5E3C99" stroke="#000" stroke-width="0.95"/>
<circle cx="498.6" cy="86.4" r="1.9" fill="#5E3C99" stroke="#000" stroke-width="0.95"/>
<circle cx="504.4" cy="89.3" r="1.9" fill="#5E3C99" stroke="#000" stroke-width="0.95"/>
<circle cx="509.2" cy="87" r="1.9" fill="#5E3C99" stroke="#000" stroke-width="0.95"/>
<circle cx="514" cy="85.5" r="1.9" fill="#5E3C99" stroke="#000" stroke-width="0.95"/>
<circle cx="519.8" cy="83.5" r="1.9" fill="#5E3C99" stroke="#000" stroke-width="0.95"/>
<circle cx="525.6" cy="90.5" r="1.9" fill="#5E3C99" stroke="#000" stroke-width="0.95"/>
<circle cx="531.8" cy="99" r="1.9" fill="#5E3C99" stroke="#000" stroke-width="0.95"/>
<circle cx="542.4" cy="103.8" r="1.9" fill="#5E3C99" stroke="#000" stroke-width="0.95"/>
<circle cx="562.6" cy="121.8" r="1.9" fill="#5E3C99" stroke="#000" stroke-width="0.95"/>
<circle cx="338.1" cy="34.1" r="1.9" fill="#E66101" stroke="#000" stroke-width="0.95"/>
<circle cx="347.5" cy="44.9" r="1.9" fill="#E66101" stroke="#000" stroke-width="0.95"/>
<circle cx="367.6" cy="68.6" r="1.9" fill="#E66101" stroke="#000" stroke-width="0.95"/>
<circle cx="377.5" cy="73.4" r="1.9" fill="#E66101" stroke="#000" stroke-width="0.95"/>
<circle cx="386.8" cy="77.9" r="1.9" fill="#E66101" stroke="#000" stroke-width="0.95"/>
<circle cx="393.5" cy="88.5" r="1.9" fill="#E66101" stroke="#000" stroke-width="0.95"/>
<circle cx="397.5" cy="74.3" r="1.9" fill="#E66101" stroke="#000" stroke-width="0.95"/>
<circle cx="406.3" cy="112" r="1.9" fill="#E66101" stroke="#000" stroke-width="0.95"/>
<circle cx="409.5" cy="107.1" r="1.9" fill="#E66101" stroke="#000" stroke-width="0.95"/>
<circle cx="413.2" cy="116.4" r="1.9" fill="#E66101" stroke="#000" stroke-width="0.95"/>
<circle cx="416" cy="125.2" r="1.9" fill="#E66101" stroke="#000" stroke-width="0.95"/>
<circle cx="418.1" cy="117.6" r="1.9" fill="#E66101" stroke="#000" stroke-width="0.95"/>
<circle cx="420.2" cy="121.7" r="1.9" fill="#E66101" stroke="#000" stroke-width="0.95"/>
<circle cx="423" cy="123.8" r="1.9" fill="#E66101" stroke="#000" stroke-width="0.95"/>
<circle cx="425.7" cy="124.5" r="1.9" fill="#E66101" stroke="#000" stroke-width="0.95"/>
<circle cx="427.8" cy="120.3" r="1.9" fill="#E66101" stroke="#000" stroke-width="0.95"/>
<circle cx="429.9" cy="125.9" r="1.9" fill="#E66101" stroke="#000" stroke-width="0.95"/>
<circle cx="432.7" cy="121" r="1.9" fill="#E66101" stroke="#000" stroke-width="0.95"/>
<circle cx="436.4" cy="119.6" r="1.9" fill="#E66101" stroke="#000" stroke-width="0.95"/>
<circle cx="439" cy="132.6" r="1.9" fill="#E66101" stroke="#000" stroke-width="0.95"/>
<circle cx="441.7" cy="124.5" r="1.9" fill="#E66101" stroke="#000" stroke-width="0.95"/>
<circle cx="443.8" cy="121.7" r="1.9" fill="#E66101" stroke="#000" stroke-width="0.95"/>
<circle cx="445.9" cy="117.6" r="1.9" fill="#E66101" stroke="#000" stroke-width="0.95"/>
<circle cx="448" cy="123.8" r="1.9" fill="#E66101" stroke="#000" stroke-width="0.95"/>
<circle cx="450.8" cy="126.6" r="1.9" fill="#E66101" stroke="#000" stroke-width="0.95"/>
<circle cx="454.2" cy="124.2" r="1.9" fill="#E66101" stroke="#000" stroke-width="0.95"/>
<circle cx="455.6" cy="135.6" r="1.9" fill="#E66101" stroke="#000" stroke-width="0.95"/>
<circle cx="458.4" cy="132.9" r="1.9" fill="#E66101" stroke="#000" stroke-width="0.95"/>
<circle cx="461.2" cy="121.7" r="1.9" fill="#E66101" stroke="#000" stroke-width="0.95"/>
<circle cx="464" cy="131.2" r="1.9" fill="#E66101" stroke="#000" stroke-width="0.95"/>
<circle cx="466.5" cy="139.5" r="1.9" fill="#E66101" stroke="#000" stroke-width="0.95"/>
<circle cx="468.6" cy="132.2" r="1.9" fill="#E66101" stroke="#000" stroke-width="0.95"/>
<circle cx="470.9" cy="134.9" r="1.9" fill="#E66101" stroke="#000" stroke-width="0.95"/>
<circle cx="473.7" cy="137.7" r="1.9" fill="#E66101" stroke="#000" stroke-width="0.95"/>
<circle cx="477.6" cy="141.2" r="1.9" fill="#E66101" stroke="#000" stroke-width="0.95"/>
<circle cx="482" cy="129.9" r="1.9" fill="#E66101" stroke="#000" stroke-width="0.95"/>
<circle cx="492.8" cy="152.1" r="1.9" fill="#E66101" stroke="#000" stroke-width="0.95"/>
<circle cx="519.2" cy="136.6" r="1.9" fill="#E66101" stroke="#000" stroke-width="0.95"/>
<rect x="327.5" y="1.5" width="246" height="170" fill="none" stroke="#333333" stroke-width="1.05"/>
<line x1="323.9" y1="131.6" x2="327.5" y2="131.6" stroke="#333333" stroke-width="1.4"/>
<text class="tk" x="320.7" y="135.6" font-size="11.2" fill="#4D4D4D" text-anchor="end">10</text>
<line x1="323.9" y1="78.35" x2="327.5" y2="78.35" stroke="#333333" stroke-width="1.4"/>
<text class="tk" x="320.7" y="82.35" font-size="11.2" fill="#4D4D4D" text-anchor="end">20</text>
<line x1="323.9" y1="25.1" x2="327.5" y2="25.1" stroke="#333333" stroke-width="1.4"/>
<text class="tk" x="320.7" y="29.1" font-size="11.2" fill="#4D4D4D" text-anchor="end">30</text>
<text class="tt" transform="translate(297.4,86.85) rotate(-90)" font-size="11.4" fill="#000" text-anchor="middle">GEDI Tree Height (m)</text>
</g>
<g>
<line x1="327.5" y1="346.15" x2="573.5" y2="346.15" stroke="#EBEBEB" stroke-width="0.8"/>
<line x1="327.5" y1="303.65" x2="573.5" y2="303.65" stroke="#EBEBEB" stroke-width="0.8"/>
<line x1="327.5" y1="261.15" x2="573.5" y2="261.15" stroke="#EBEBEB" stroke-width="0.8"/>
<line x1="327.5" y1="218.65" x2="573.5" y2="218.65" stroke="#EBEBEB" stroke-width="0.8"/>
<line x1="335.16" y1="179.5" x2="335.16" y2="349.5" stroke="#EBEBEB" stroke-width="0.8"/>
<line x1="395.22" y1="179.5" x2="395.22" y2="349.5" stroke="#EBEBEB" stroke-width="0.8"/>
<line x1="455.28" y1="179.5" x2="455.28" y2="349.5" stroke="#EBEBEB" stroke-width="0.8"/>
<line x1="515.34" y1="179.5" x2="515.34" y2="349.5" stroke="#EBEBEB" stroke-width="0.8"/>
<line x1="327.5" y1="324.9" x2="573.5" y2="324.9" stroke="#EBEBEB" stroke-width="1.05"/>
<line x1="327.5" y1="282.4" x2="573.5" y2="282.4" stroke="#EBEBEB" stroke-width="1.05"/>
<line x1="327.5" y1="239.9" x2="573.5" y2="239.9" stroke="#EBEBEB" stroke-width="1.05"/>
<line x1="327.5" y1="197.4" x2="573.5" y2="197.4" stroke="#EBEBEB" stroke-width="1.05"/>
<line x1="365.19" y1="179.5" x2="365.19" y2="349.5" stroke="#EBEBEB" stroke-width="1.05"/>
<line x1="425.25" y1="179.5" x2="425.25" y2="349.5" stroke="#EBEBEB" stroke-width="1.05"/>
<line x1="485.31" y1="179.5" x2="485.31" y2="349.5" stroke="#EBEBEB" stroke-width="1.05"/>
<line x1="545.37" y1="179.5" x2="545.37" y2="349.5" stroke="#EBEBEB" stroke-width="1.05"/>
<line x1="357.1" y1="212.2" x2="357.1" y2="260.9" stroke="#5E3C99" stroke-width="1.2" stroke-opacity="0.3"/>
<line x1="367.9" y1="214.9" x2="367.9" y2="254.9" stroke="#5E3C99" stroke-width="1.2" stroke-opacity="0.3"/>
<line x1="373.6" y1="218.9" x2="373.6" y2="258.9" stroke="#5E3C99" stroke-width="1.2" stroke-opacity="0.3"/>
<line x1="377.8" y1="217" x2="377.8" y2="257" stroke="#5E3C99" stroke-width="1.2" stroke-opacity="0.3"/>
<line x1="380.9" y1="216.7" x2="380.9" y2="256.7" stroke="#5E3C99" stroke-width="1.2" stroke-opacity="0.3"/>
<line x1="384.4" y1="216.7" x2="384.4" y2="256.7" stroke="#5E3C99" stroke-width="1.2" stroke-opacity="0.3"/>
<line x1="387.9" y1="214" x2="387.9" y2="254" stroke="#5E3C99" stroke-width="1.2" stroke-opacity="0.3"/>
<line x1="389.6" y1="212.8" x2="389.6" y2="252.8" stroke="#5E3C99" stroke-width="1.2" stroke-opacity="0.3"/>
<line x1="391.3" y1="221" x2="391.3" y2="261" stroke="#5E3C99" stroke-width="1.2" stroke-opacity="0.3"/>
<line x1="395.7" y1="216.7" x2="395.7" y2="256.7" stroke="#5E3C99" stroke-width="1.2" stroke-opacity="0.3"/>
<line x1="397.4" y1="221" x2="397.4" y2="261" stroke="#5E3C99" stroke-width="1.2" stroke-opacity="0.3"/>
<line x1="400.9" y1="215.5" x2="400.9" y2="263.2" stroke="#5E3C99" stroke-width="1.2" stroke-opacity="0.3"/>
<line x1="405.7" y1="217" x2="405.7" y2="261.2" stroke="#5E3C99" stroke-width="1.2" stroke-opacity="0.3"/>
<line x1="407.8" y1="219.1" x2="407.8" y2="260.6" stroke="#5E3C99" stroke-width="1.2" stroke-opacity="0.3"/>
<line x1="410.4" y1="214.7" x2="410.4" y2="268.8" stroke="#5E3C99" stroke-width="1.2" stroke-opacity="0.3"/>
<line x1="411.8" y1="222.3" x2="411.8" y2="277.8" stroke="#5E3C99" stroke-width="1.2" stroke-opacity="0.3"/>
<line x1="413.6" y1="220.1" x2="413.6" y2="269.6" stroke="#5E3C99" stroke-width="1.2" stroke-opacity="0.3"/>
<line x1="415.7" y1="218" x2="415.7" y2="277.6" stroke="#5E3C99" stroke-width="1.2" stroke-opacity="0.3"/>
<line x1="419.5" y1="222.6" x2="419.5" y2="274.7" stroke="#5E3C99" stroke-width="1.2" stroke-opacity="0.3"/>
<line x1="422.3" y1="215.2" x2="422.3" y2="279.3" stroke="#5E3C99" stroke-width="1.2" stroke-opacity="0.3"/>
<line x1="425.2" y1="215.8" x2="425.2" y2="284.6" stroke="#5E3C99" stroke-width="1.2" stroke-opacity="0.3"/>
<line x1="427.8" y1="217.7" x2="427.8" y2="272.8" stroke="#5E3C99" stroke-width="1.2" stroke-opacity="0.3"/>
<line x1="430.4" y1="214.6" x2="430.4" y2="278.4" stroke="#5E3C99" stroke-width="1.2" stroke-opacity="0.3"/>
<line x1="433.6" y1="250" x2="433.6" y2="304" stroke="#5E3C99" stroke-width="1.2" stroke-opacity="0.3"/>
<line x1="436.9" y1="240" x2="436.9" y2="292" stroke="#5E3C99" stroke-width="1.2" stroke-opacity="0.3"/>
<line x1="440.3" y1="244" x2="440.3" y2="298" stroke="#5E3C99" stroke-width="1.2" stroke-opacity="0.3"/>
<line x1="443.8" y1="246" x2="443.8" y2="300" stroke="#5E3C99" stroke-width="1.2" stroke-opacity="0.3"/>
<line x1="447.8" y1="264" x2="447.8" y2="318" stroke="#5E3C99" stroke-width="1.2" stroke-opacity="0.3"/>
<line x1="451.8" y1="260" x2="451.8" y2="316" stroke="#5E3C99" stroke-width="1.2" stroke-opacity="0.3"/>
<line x1="456.5" y1="262" x2="456.5" y2="333.5" stroke="#5E3C99" stroke-width="1.2" stroke-opacity="0.3"/>
<line x1="462" y1="258" x2="462" y2="312" stroke="#5E3C99" stroke-width="1.2" stroke-opacity="0.3"/>
<line x1="469.6" y1="258" x2="469.6" y2="308" stroke="#5E3C99" stroke-width="1.2" stroke-opacity="0.3"/>
<line x1="478.5" y1="255" x2="478.5" y2="284.8" stroke="#5E3C99" stroke-width="1.2" stroke-opacity="0.3"/>
<line x1="485.5" y1="244" x2="485.5" y2="291.7" stroke="#5E3C99" stroke-width="1.2" stroke-opacity="0.3"/>
<line x1="492" y1="240.1" x2="492" y2="280.1" stroke="#5E3C99" stroke-width="1.2" stroke-opacity="0.3"/>
<line x1="498.7" y1="233.6" x2="498.7" y2="277.8" stroke="#5E3C99" stroke-width="1.2" stroke-opacity="0.3"/>
<line x1="504.3" y1="233.1" x2="504.3" y2="270.3" stroke="#5E3C99" stroke-width="1.2" stroke-opacity="0.3"/>
<line x1="509.2" y1="231.7" x2="509.2" y2="280.1" stroke="#5E3C99" stroke-width="1.2" stroke-opacity="0.3"/>
<line x1="514.5" y1="235.9" x2="514.5" y2="279" stroke="#5E3C99" stroke-width="1.2" stroke-opacity="0.3"/>
<line x1="519.9" y1="238.3" x2="519.9" y2="273.1" stroke="#5E3C99" stroke-width="1.2" stroke-opacity="0.3"/>
<line x1="525.5" y1="236.4" x2="525.5" y2="277.8" stroke="#5E3C99" stroke-width="1.2" stroke-opacity="0.3"/>
<line x1="532" y1="239" x2="532" y2="283.6" stroke="#5E3C99" stroke-width="1.2" stroke-opacity="0.3"/>
<line x1="542.4" y1="238.3" x2="542.4" y2="292.9" stroke="#5E3C99" stroke-width="1.2" stroke-opacity="0.3"/>
<line x1="562.7" y1="258" x2="562.7" y2="331.3" stroke="#5E3C99" stroke-width="1.2" stroke-opacity="0.3"/>
<line x1="338.3" y1="187" x2="338.3" y2="203.5" stroke="#E66101" stroke-width="1.2" stroke-opacity="0.3"/>
<line x1="347.5" y1="192" x2="347.5" y2="203.5" stroke="#E66101" stroke-width="1.2" stroke-opacity="0.3"/>
<line x1="367.9" y1="210.4" x2="367.9" y2="240.9" stroke="#E66101" stroke-width="1.2" stroke-opacity="0.3"/>
<line x1="377.4" y1="214" x2="377.4" y2="248" stroke="#E66101" stroke-width="1.2" stroke-opacity="0.3"/>
<line x1="382.3" y1="214" x2="382.3" y2="252" stroke="#E66101" stroke-width="1.2" stroke-opacity="0.3"/>
<line x1="386.1" y1="212" x2="386.1" y2="250" stroke="#E66101" stroke-width="1.2" stroke-opacity="0.3"/>
<line x1="390.5" y1="210" x2="390.5" y2="250" stroke="#E66101" stroke-width="1.2" stroke-opacity="0.3"/>
<line x1="392.7" y1="214" x2="392.7" y2="254" stroke="#E66101" stroke-width="1.2" stroke-opacity="0.3"/>
<line x1="397.4" y1="207" x2="397.4" y2="250" stroke="#E66101" stroke-width="1.2" stroke-opacity="0.3"/>
<line x1="404.2" y1="228" x2="404.2" y2="270" stroke="#E66101" stroke-width="1.2" stroke-opacity="0.3"/>
<line x1="406.7" y1="236" x2="406.7" y2="278" stroke="#E66101" stroke-width="1.2" stroke-opacity="0.3"/>
<line x1="409.6" y1="240" x2="409.6" y2="284" stroke="#E66101" stroke-width="1.2" stroke-opacity="0.3"/>
<line x1="413.6" y1="244" x2="413.6" y2="288" stroke="#E66101" stroke-width="1.2" stroke-opacity="0.3"/>
<line x1="416.2" y1="256" x2="416.2" y2="300" stroke="#E66101" stroke-width="1.2" stroke-opacity="0.3"/>
<line x1="417.9" y1="262" x2="417.9" y2="310" stroke="#E66101" stroke-width="1.2" stroke-opacity="0.3"/>
<line x1="420.9" y1="260" x2="420.9" y2="306" stroke="#E66101" stroke-width="1.2" stroke-opacity="0.3"/>
<line x1="423.5" y1="262" x2="423.5" y2="308" stroke="#E66101" stroke-width="1.2" stroke-opacity="0.3"/>
<line x1="426.1" y1="262" x2="426.1" y2="342" stroke="#E66101" stroke-width="1.2" stroke-opacity="0.3"/>
<line x1="427.8" y1="262" x2="427.8" y2="312" stroke="#E66101" stroke-width="1.2" stroke-opacity="0.3"/>
<line x1="429.6" y1="268" x2="429.6" y2="318" stroke="#E66101" stroke-width="1.2" stroke-opacity="0.3"/>
<line x1="431.3" y1="276" x2="431.3" y2="324" stroke="#E66101" stroke-width="1.2" stroke-opacity="0.3"/>
<line x1="433" y1="262" x2="433" y2="310" stroke="#E66101" stroke-width="1.2" stroke-opacity="0.3"/>
<line x1="434.8" y1="266" x2="434.8" y2="312" stroke="#E66101" stroke-width="1.2" stroke-opacity="0.3"/>
<line x1="436.5" y1="258" x2="436.5" y2="304" stroke="#E66101" stroke-width="1.2" stroke-opacity="0.3"/>
<line x1="437.9" y1="264" x2="437.9" y2="312" stroke="#E66101" stroke-width="1.2" stroke-opacity="0.3"/>
<line x1="439.7" y1="266" x2="439.7" y2="316" stroke="#E66101" stroke-width="1.2" stroke-opacity="0.3"/>
<line x1="441.7" y1="266" x2="441.7" y2="316" stroke="#E66101" stroke-width="1.2" stroke-opacity="0.3"/>
<line x1="444.3" y1="268" x2="444.3" y2="316" stroke="#E66101" stroke-width="1.2" stroke-opacity="0.3"/>
<line x1="446.6" y1="266" x2="446.6" y2="316" stroke="#E66101" stroke-width="1.2" stroke-opacity="0.3"/>
<line x1="448.7" y1="276" x2="448.7" y2="326" stroke="#E66101" stroke-width="1.2" stroke-opacity="0.3"/>
<line x1="450.4" y1="270" x2="450.4" y2="316" stroke="#E66101" stroke-width="1.2" stroke-opacity="0.3"/>
<line x1="453.6" y1="270" x2="453.6" y2="318" stroke="#E66101" stroke-width="1.2" stroke-opacity="0.3"/>
<line x1="455.7" y1="280" x2="455.7" y2="328" stroke="#E66101" stroke-width="1.2" stroke-opacity="0.3"/>
<line x1="458.3" y1="268" x2="458.3" y2="316" stroke="#E66101" stroke-width="1.2" stroke-opacity="0.3"/>
<line x1="461.2" y1="252" x2="461.2" y2="298" stroke="#E66101" stroke-width="1.2" stroke-opacity="0.3"/>
<line x1="464" y1="268" x2="464" y2="316" stroke="#E66101" stroke-width="1.2" stroke-opacity="0.3"/>
<line x1="466.1" y1="254" x2="466.1" y2="300" stroke="#E66101" stroke-width="1.2" stroke-opacity="0.3"/>
<line x1="468.7" y1="264" x2="468.7" y2="310" stroke="#E66101" stroke-width="1.2" stroke-opacity="0.3"/>
<line x1="471" y1="274" x2="471" y2="322" stroke="#E66101" stroke-width="1.2" stroke-opacity="0.3"/>
<line x1="474.4" y1="264" x2="474.4" y2="308" stroke="#E66101" stroke-width="1.2" stroke-opacity="0.3"/>
<line x1="477.4" y1="268" x2="477.4" y2="312" stroke="#E66101" stroke-width="1.2" stroke-opacity="0.3"/>
<line x1="482" y1="270.8" x2="482" y2="310.3" stroke="#E66101" stroke-width="1.2" stroke-opacity="0.3"/>
<line x1="492.5" y1="282.4" x2="492.5" y2="310.3" stroke="#E66101" stroke-width="1.2" stroke-opacity="0.3"/>
<line x1="519.2" y1="249.9" x2="519.2" y2="317.3" stroke="#E66101" stroke-width="1.2" stroke-opacity="0.3"/>
<polyline points="357.1,229.6 367.9,233.9 373.6,237.9 377.8,236 380.9,235.7 384.4,235.7 387.9,233 389.6,231.8 391.3,240 395.7,235.7 397.4,240 400.9,236 405.7,236.3 407.8,238.3 410.4,246.1 411.8,254.8 413.6,240 415.7,247.8 419.5,250.4 422.3,254.8 425.2,257.9 427.8,246.4 430.4,254.8 433.6,276 436.9,264.3 440.3,269.6 443.8,271.7 447.8,290.4 451.8,286.4 456.5,288.7 462,284 469.6,282.3 478.5,271.5 485.5,267.6 492,251.5 498.7,245.9 504.3,252.7 509.2,248.3 514.5,258.7 519.9,250.3 525.5,252.2 532,258.7 542.4,269.7 562.7,286.6" fill="none" stroke="#5E3C99" stroke-width="1.4" stroke-linejoin="round"/>
<polyline points="338.3,195.3 347.5,195.3 367.9,225.2 377.4,229.2 382.3,233 386.1,231.3 390.5,229 392.7,233.9 397.4,227 404.2,248.5 406.7,256.7 409.6,261.2 413.6,265.4 416.2,277 417.9,285.7 420.9,282.3 423.5,284 426.1,288.7 427.8,285.7 429.6,293 431.3,299.7 433,285.2 434.8,288.7 436.5,280 437.9,287 439.7,290.4 441.7,289.6 444.3,291 446.6,290.4 448.7,300.3 450.4,292.2 453.6,292.7 455.7,303.5 458.3,291 461.2,273.9 464,291 466.1,276 468.7,286.6 471,297.4 474.4,285.7 477.4,289.9 482,292.9 492.5,295.2 519.2,284.3" fill="none" stroke="#E66101" stroke-width="1.4" stroke-linejoin="round"/>
<circle cx="357.1" cy="229.6" r="1.9" fill="#5E3C99" stroke="#000" stroke-width="0.95"/>
<circle cx="367.9" cy="233.9" r="1.9" fill="#5E3C99" stroke="#000" stroke-width="0.95"/>
<circle cx="373.6" cy="237.9" r="1.9" fill="#5E3C99" stroke="#000" stroke-width="0.95"/>
<circle cx="377.8" cy="236" r="1.9" fill="#5E3C99" stroke="#000" stroke-width="0.95"/>
<circle cx="380.9" cy="235.7" r="1.9" fill="#5E3C99" stroke="#000" stroke-width="0.95"/>
<circle cx="384.4" cy="235.7" r="1.9" fill="#5E3C99" stroke="#000" stroke-width="0.95"/>
<circle cx="387.9" cy="233" r="1.9" fill="#5E3C99" stroke="#000" stroke-width="0.95"/>
<circle cx="389.6" cy="231.8" r="1.9" fill="#5E3C99" stroke="#000" stroke-width="0.95"/>
<circle cx="391.3" cy="240" r="1.9" fill="#5E3C99" stroke="#000" stroke-width="0.95"/>
<circle cx="395.7" cy="235.7" r="1.9" fill="#5E3C99" stroke="#000" stroke-width="0.95"/>
<circle cx="397.4" cy="240" r="1.9" fill="#5E3C99" stroke="#000" stroke-width="0.95"/>
<circle cx="400.9" cy="236" r="1.9" fill="#5E3C99" stroke="#000" stroke-width="0.95"/>
<circle cx="405.7" cy="236.3" r="1.9" fill="#5E3C99" stroke="#000" stroke-width="0.95"/>
<circle cx="407.8" cy="238.3" r="1.9" fill="#5E3C99" stroke="#000" stroke-width="0.95"/>
<circle cx="410.4" cy="246.1" r="1.9" fill="#5E3C99" stroke="#000" stroke-width="0.95"/>
<circle cx="411.8" cy="254.8" r="1.9" fill="#5E3C99" stroke="#000" stroke-width="0.95"/>
<circle cx="413.6" cy="240" r="1.9" fill="#5E3C99" stroke="#000" stroke-width="0.95"/>
<circle cx="415.7" cy="247.8" r="1.9" fill="#5E3C99" stroke="#000" stroke-width="0.95"/>
<circle cx="419.5" cy="250.4" r="1.9" fill="#5E3C99" stroke="#000" stroke-width="0.95"/>
<circle cx="422.3" cy="254.8" r="1.9" fill="#5E3C99" stroke="#000" stroke-width="0.95"/>
<circle cx="425.2" cy="257.9" r="1.9" fill="#5E3C99" stroke="#000" stroke-width="0.95"/>
<circle cx="427.8" cy="246.4" r="1.9" fill="#5E3C99" stroke="#000" stroke-width="0.95"/>
<circle cx="430.4" cy="254.8" r="1.9" fill="#5E3C99" stroke="#000" stroke-width="0.95"/>
<circle cx="433.6" cy="276" r="1.9" fill="#5E3C99" stroke="#000" stroke-width="0.95"/>
<circle cx="436.9" cy="264.3" r="1.9" fill="#5E3C99" stroke="#000" stroke-width="0.95"/>
<circle cx="440.3" cy="269.6" r="1.9" fill="#5E3C99" stroke="#000" stroke-width="0.95"/>
<circle cx="443.8" cy="271.7" r="1.9" fill="#5E3C99" stroke="#000" stroke-width="0.95"/>
<circle cx="447.8" cy="290.4" r="1.9" fill="#5E3C99" stroke="#000" stroke-width="0.95"/>
<circle cx="451.8" cy="286.4" r="1.9" fill="#5E3C99" stroke="#000" stroke-width="0.95"/>
<circle cx="456.5" cy="288.7" r="1.9" fill="#5E3C99" stroke="#000" stroke-width="0.95"/>
<circle cx="462" cy="284" r="1.9" fill="#5E3C99" stroke="#000" stroke-width="0.95"/>
<circle cx="469.6" cy="282.3" r="1.9" fill="#5E3C99" stroke="#000" stroke-width="0.95"/>
<circle cx="478.5" cy="271.5" r="1.9" fill="#5E3C99" stroke="#000" stroke-width="0.95"/>
<circle cx="485.5" cy="267.6" r="1.9" fill="#5E3C99" stroke="#000" stroke-width="0.95"/>
<circle cx="492" cy="251.5" r="1.9" fill="#5E3C99" stroke="#000" stroke-width="0.95"/>
<circle cx="498.7" cy="245.9" r="1.9" fill="#5E3C99" stroke="#000" stroke-width="0.95"/>
<circle cx="504.3" cy="252.7" r="1.9" fill="#5E3C99" stroke="#000" stroke-width="0.95"/>
<circle cx="509.2" cy="248.3" r="1.9" fill="#5E3C99" stroke="#000" stroke-width="0.95"/>
<circle cx="514.5" cy="258.7" r="1.9" fill="#5E3C99" stroke="#000" stroke-width="0.95"/>
<circle cx="519.9" cy="250.3" r="1.9" fill="#5E3C99" stroke="#000" stroke-width="0.95"/>
<circle cx="525.5" cy="252.2" r="1.9" fill="#5E3C99" stroke="#000" stroke-width="0.95"/>
<circle cx="532" cy="258.7" r="1.9" fill="#5E3C99" stroke="#000" stroke-width="0.95"/>
<circle cx="542.4" cy="269.7" r="1.9" fill="#5E3C99" stroke="#000" stroke-width="0.95"/>
<circle cx="562.7" cy="286.6" r="1.9" fill="#5E3C99" stroke="#000" stroke-width="0.95"/>
<circle cx="338.3" cy="195.3" r="1.9" fill="#E66101" stroke="#000" stroke-width="0.95"/>
<circle cx="347.5" cy="195.3" r="1.9" fill="#E66101" stroke="#000" stroke-width="0.95"/>
<circle cx="367.9" cy="225.2" r="1.9" fill="#E66101" stroke="#000" stroke-width="0.95"/>
<circle cx="377.4" cy="229.2" r="1.9" fill="#E66101" stroke="#000" stroke-width="0.95"/>
<circle cx="382.3" cy="233" r="1.9" fill="#E66101" stroke="#000" stroke-width="0.95"/>
<circle cx="386.1" cy="231.3" r="1.9" fill="#E66101" stroke="#000" stroke-width="0.95"/>
<circle cx="390.5" cy="229" r="1.9" fill="#E66101" stroke="#000" stroke-width="0.95"/>
<circle cx="392.7" cy="233.9" r="1.9" fill="#E66101" stroke="#000" stroke-width="0.95"/>
<circle cx="397.4" cy="227" r="1.9" fill="#E66101" stroke="#000" stroke-width="0.95"/>
<circle cx="404.2" cy="248.5" r="1.9" fill="#E66101" stroke="#000" stroke-width="0.95"/>
<circle cx="406.7" cy="256.7" r="1.9" fill="#E66101" stroke="#000" stroke-width="0.95"/>
<circle cx="409.6" cy="261.2" r="1.9" fill="#E66101" stroke="#000" stroke-width="0.95"/>
<circle cx="413.6" cy="265.4" r="1.9" fill="#E66101" stroke="#000" stroke-width="0.95"/>
<circle cx="416.2" cy="277" r="1.9" fill="#E66101" stroke="#000" stroke-width="0.95"/>
<circle cx="417.9" cy="285.7" r="1.9" fill="#E66101" stroke="#000" stroke-width="0.95"/>
<circle cx="420.9" cy="282.3" r="1.9" fill="#E66101" stroke="#000" stroke-width="0.95"/>
<circle cx="423.5" cy="284" r="1.9" fill="#E66101" stroke="#000" stroke-width="0.95"/>
<circle cx="426.1" cy="288.7" r="1.9" fill="#E66101" stroke="#000" stroke-width="0.95"/>
<circle cx="427.8" cy="285.7" r="1.9" fill="#E66101" stroke="#000" stroke-width="0.95"/>
<circle cx="429.6" cy="293" r="1.9" fill="#E66101" stroke="#000" stroke-width="0.95"/>
<circle cx="431.3" cy="299.7" r="1.9" fill="#E66101" stroke="#000" stroke-width="0.95"/>
<circle cx="433" cy="285.2" r="1.9" fill="#E66101" stroke="#000" stroke-width="0.95"/>
<circle cx="434.8" cy="288.7" r="1.9" fill="#E66101" stroke="#000" stroke-width="0.95"/>
<circle cx="436.5" cy="280" r="1.9" fill="#E66101" stroke="#000" stroke-width="0.95"/>
<circle cx="437.9" cy="287" r="1.9" fill="#E66101" stroke="#000" stroke-width="0.95"/>
<circle cx="439.7" cy="290.4" r="1.9" fill="#E66101" stroke="#000" stroke-width="0.95"/>
<circle cx="441.7" cy="289.6" r="1.9" fill="#E66101" stroke="#000" stroke-width="0.95"/>
<circle cx="444.3" cy="291" r="1.9" fill="#E66101" stroke="#000" stroke-width="0.95"/>
<circle cx="446.6" cy="290.4" r="1.9" fill="#E66101" stroke="#000" stroke-width="0.95"/>
<circle cx="448.7" cy="300.3" r="1.9" fill="#E66101" stroke="#000" stroke-width="0.95"/>
<circle cx="450.4" cy="292.2" r="1.9" fill="#E66101" stroke="#000" stroke-width="0.95"/>
<circle cx="453.6" cy="292.7" r="1.9" fill="#E66101" stroke="#000" stroke-width="0.95"/>
<circle cx="455.7" cy="303.5" r="1.9" fill="#E66101" stroke="#000" stroke-width="0.95"/>
<circle cx="458.3" cy="291" r="1.9" fill="#E66101" stroke="#000" stroke-width="0.95"/>
<circle cx="461.2" cy="273.9" r="1.9" fill="#E66101" stroke="#000" stroke-width="0.95"/>
<circle cx="464" cy="291" r="1.9" fill="#E66101" stroke="#000" stroke-width="0.95"/>
<circle cx="466.1" cy="276" r="1.9" fill="#E66101" stroke="#000" stroke-width="0.95"/>
<circle cx="468.7" cy="286.6" r="1.9" fill="#E66101" stroke="#000" stroke-width="0.95"/>
<circle cx="471" cy="297.4" r="1.9" fill="#E66101" stroke="#000" stroke-width="0.95"/>
<circle cx="474.4" cy="285.7" r="1.9" fill="#E66101" stroke="#000" stroke-width="0.95"/>
<circle cx="477.4" cy="289.9" r="1.9" fill="#E66101" stroke="#000" stroke-width="0.95"/>
<circle cx="482" cy="292.9" r="1.9" fill="#E66101" stroke="#000" stroke-width="0.95"/>
<circle cx="492.5" cy="295.2" r="1.9" fill="#E66101" stroke="#000" stroke-width="0.95"/>
<circle cx="519.2" cy="284.3" r="1.9" fill="#E66101" stroke="#000" stroke-width="0.95"/>
<rect x="327.5" y="179.5" width="246" height="170" fill="none" stroke="#333333" stroke-width="1.05"/>
<line x1="323.9" y1="324.9" x2="327.5" y2="324.9" stroke="#333333" stroke-width="1.4"/>
<text class="tk" x="320.7" y="328.9" font-size="11.2" fill="#4D4D4D" text-anchor="end">20</text>
<line x1="323.9" y1="282.4" x2="327.5" y2="282.4" stroke="#333333" stroke-width="1.4"/>
<text class="tk" x="320.7" y="286.4" font-size="11.2" fill="#4D4D4D" text-anchor="end">40</text>
<line x1="323.9" y1="239.9" x2="327.5" y2="239.9" stroke="#333333" stroke-width="1.4"/>
<text class="tk" x="320.7" y="243.9" font-size="11.2" fill="#4D4D4D" text-anchor="end">60</text>
<line x1="323.9" y1="197.4" x2="327.5" y2="197.4" stroke="#333333" stroke-width="1.4"/>
<text class="tk" x="320.7" y="201.4" font-size="11.2" fill="#4D4D4D" text-anchor="end">80</text>
<text class="tt" transform="translate(297.4,264.85) rotate(-90)" font-size="11.4" fill="#000" text-anchor="middle">NLCD Tree Cover (%)</text>
</g>
<g>
<line x1="327.5" y1="509.4" x2="573.5" y2="509.4" stroke="#EBEBEB" stroke-width="0.8"/>
<line x1="327.5" y1="466.8" x2="573.5" y2="466.8" stroke="#EBEBEB" stroke-width="0.8"/>
<line x1="327.5" y1="424.2" x2="573.5" y2="424.2" stroke="#EBEBEB" stroke-width="0.8"/>
<line x1="327.5" y1="381.6" x2="573.5" y2="381.6" stroke="#EBEBEB" stroke-width="0.8"/>
<line x1="335.16" y1="357.5" x2="335.16" y2="527.5" stroke="#EBEBEB" stroke-width="0.8"/>
<line x1="395.22" y1="357.5" x2="395.22" y2="527.5" stroke="#EBEBEB" stroke-width="0.8"/>
<line x1="455.28" y1="357.5" x2="455.28" y2="527.5" stroke="#EBEBEB" stroke-width="0.8"/>
<line x1="515.34" y1="357.5" x2="515.34" y2="527.5" stroke="#EBEBEB" stroke-width="0.8"/>
<line x1="327.5" y1="488.1" x2="573.5" y2="488.1" stroke="#EBEBEB" stroke-width="1.05"/>
<line x1="327.5" y1="445.5" x2="573.5" y2="445.5" stroke="#EBEBEB" stroke-width="1.05"/>
<line x1="327.5" y1="402.9" x2="573.5" y2="402.9" stroke="#EBEBEB" stroke-width="1.05"/>
<line x1="327.5" y1="360.3" x2="573.5" y2="360.3" stroke="#EBEBEB" stroke-width="1.05"/>
<line x1="365.19" y1="357.5" x2="365.19" y2="527.5" stroke="#EBEBEB" stroke-width="1.05"/>
<line x1="425.25" y1="357.5" x2="425.25" y2="527.5" stroke="#EBEBEB" stroke-width="1.05"/>
<line x1="485.31" y1="357.5" x2="485.31" y2="527.5" stroke="#EBEBEB" stroke-width="1.05"/>
<line x1="545.37" y1="357.5" x2="545.37" y2="527.5" stroke="#EBEBEB" stroke-width="1.05"/>
<line x1="357.1" y1="400.9" x2="357.1" y2="433.9" stroke="#5E3C99" stroke-width="1.2" stroke-opacity="0.3"/>
<line x1="367.9" y1="392" x2="367.9" y2="434" stroke="#5E3C99" stroke-width="1.2" stroke-opacity="0.3"/>
<line x1="373.6" y1="397.4" x2="373.6" y2="441.7" stroke="#5E3C99" stroke-width="1.2" stroke-opacity="0.3"/>
<line x1="377.8" y1="406" x2="377.8" y2="448" stroke="#5E3C99" stroke-width="1.2" stroke-opacity="0.3"/>
<line x1="381.3" y1="406" x2="381.3" y2="450" stroke="#5E3C99" stroke-width="1.2" stroke-opacity="0.3"/>
<line x1="384.9" y1="414" x2="384.9" y2="456" stroke="#5E3C99" stroke-width="1.2" stroke-opacity="0.3"/>
<line x1="387.5" y1="412" x2="387.5" y2="454" stroke="#5E3C99" stroke-width="1.2" stroke-opacity="0.3"/>
<line x1="390.5" y1="414" x2="390.5" y2="456" stroke="#5E3C99" stroke-width="1.2" stroke-opacity="0.3"/>
<line x1="393.1" y1="416" x2="393.1" y2="460" stroke="#5E3C99" stroke-width="1.2" stroke-opacity="0.3"/>
<line x1="395.2" y1="414" x2="395.2" y2="458" stroke="#5E3C99" stroke-width="1.2" stroke-opacity="0.3"/>
<line x1="397.4" y1="418" x2="397.4" y2="460" stroke="#5E3C99" stroke-width="1.2" stroke-opacity="0.3"/>
<line x1="399.7" y1="418" x2="399.7" y2="462" stroke="#5E3C99" stroke-width="1.2" stroke-opacity="0.3"/>
<line x1="402.4" y1="408" x2="402.4" y2="452" stroke="#5E3C99" stroke-width="1.2" stroke-opacity="0.3"/>
<line x1="404.3" y1="420" x2="404.3" y2="462" stroke="#5E3C99" stroke-width="1.2" stroke-opacity="0.3"/>
<line x1="407" y1="400" x2="407" y2="452" stroke="#5E3C99" stroke-width="1.2" stroke-opacity="0.3"/>
<line x1="408.7" y1="414" x2="408.7" y2="458" stroke="#5E3C99" stroke-width="1.2" stroke-opacity="0.3"/>
<line x1="410.4" y1="418" x2="410.4" y2="462" stroke="#5E3C99" stroke-width="1.2" stroke-opacity="0.3"/>
<line x1="412.6" y1="412" x2="412.6" y2="454" stroke="#5E3C99" stroke-width="1.2" stroke-opacity="0.3"/>
<line x1="414.8" y1="406" x2="414.8" y2="450" stroke="#5E3C99" stroke-width="1.2" stroke-opacity="0.3"/>
<line x1="417.4" y1="410" x2="417.4" y2="454" stroke="#5E3C99" stroke-width="1.2" stroke-opacity="0.3"/>
<line x1="422.3" y1="400" x2="422.3" y2="446" stroke="#5E3C99" stroke-width="1.2" stroke-opacity="0.3"/>
<line x1="425.2" y1="404" x2="425.2" y2="450" stroke="#5E3C99" stroke-width="1.2" stroke-opacity="0.3"/>
<line x1="427.8" y1="408" x2="427.8" y2="454" stroke="#5E3C99" stroke-width="1.2" stroke-opacity="0.3"/>
<line x1="430.4" y1="404" x2="430.4" y2="450" stroke="#5E3C99" stroke-width="1.2" stroke-opacity="0.3"/>
<line x1="435.7" y1="408" x2="435.7" y2="454" stroke="#5E3C99" stroke-width="1.2" stroke-opacity="0.3"/>
<line x1="440" y1="404" x2="440" y2="450" stroke="#5E3C99" stroke-width="1.2" stroke-opacity="0.3"/>
<line x1="443.1" y1="410" x2="443.1" y2="454" stroke="#5E3C99" stroke-width="1.2" stroke-opacity="0.3"/>
<line x1="447" y1="408" x2="447" y2="452" stroke="#5E3C99" stroke-width="1.2" stroke-opacity="0.3"/>
<line x1="452.2" y1="412" x2="452.2" y2="458" stroke="#5E3C99" stroke-width="1.2" stroke-opacity="0.3"/>
<line x1="456.5" y1="406" x2="456.5" y2="452" stroke="#5E3C99" stroke-width="1.2" stroke-opacity="0.3"/>
<line x1="461.7" y1="410" x2="461.7" y2="456" stroke="#5E3C99" stroke-width="1.2" stroke-opacity="0.3"/>
<line x1="469.2" y1="402" x2="469.2" y2="454" stroke="#5E3C99" stroke-width="1.2" stroke-opacity="0.3"/>
<line x1="478.4" y1="396" x2="478.4" y2="440" stroke="#5E3C99" stroke-width="1.2" stroke-opacity="0.3"/>
<line x1="485.3" y1="397.6" x2="485.3" y2="449.8" stroke="#5E3C99" stroke-width="1.2" stroke-opacity="0.3"/>
<line x1="492.1" y1="405.8" x2="492.1" y2="445.9" stroke="#5E3C99" stroke-width="1.2" stroke-opacity="0.3"/>
<line x1="498.8" y1="400.7" x2="498.8" y2="445.9" stroke="#5E3C99" stroke-width="1.2" stroke-opacity="0.3"/>
<line x1="504.2" y1="413.6" x2="504.2" y2="454.9" stroke="#5E3C99" stroke-width="1.2" stroke-opacity="0.3"/>
<line x1="508.6" y1="408.9" x2="508.6" y2="464" stroke="#5E3C99" stroke-width="1.2" stroke-opacity="0.3"/>
<line x1="514.3" y1="416.7" x2="514.3" y2="515.7" stroke="#5E3C99" stroke-width="1.2" stroke-opacity="0.3"/>
<line x1="519.7" y1="414.9" x2="519.7" y2="509.2" stroke="#5E3C99" stroke-width="1.2" stroke-opacity="0.3"/>
<line x1="525.4" y1="422.6" x2="525.4" y2="462.7" stroke="#5E3C99" stroke-width="1.2" stroke-opacity="0.3"/>
<line x1="531.8" y1="431.2" x2="531.8" y2="518.2" stroke="#5E3C99" stroke-width="1.2" stroke-opacity="0.3"/>
<line x1="542.7" y1="438.1" x2="542.7" y2="519.5" stroke="#5E3C99" stroke-width="1.2" stroke-opacity="0.3"/>
<line x1="562.9" y1="444.1" x2="562.9" y2="518.2" stroke="#5E3C99" stroke-width="1.2" stroke-opacity="0.3"/>
<line x1="338.3" y1="400.9" x2="338.3" y2="431.7" stroke="#E66101" stroke-width="1.2" stroke-opacity="0.3"/>
<line x1="347.5" y1="377" x2="347.5" y2="420.9" stroke="#E66101" stroke-width="1.2" stroke-opacity="0.3"/>
<line x1="367.5" y1="377" x2="367.5" y2="427.8" stroke="#E66101" stroke-width="1.2" stroke-opacity="0.3"/>
<line x1="377.4" y1="364.9" x2="377.4" y2="406.2" stroke="#E66101" stroke-width="1.2" stroke-opacity="0.3"/>
<line x1="382.1" y1="384" x2="382.1" y2="420" stroke="#E66101" stroke-width="1.2" stroke-opacity="0.3"/>
<line x1="386.7" y1="386" x2="386.7" y2="422" stroke="#E66101" stroke-width="1.2" stroke-opacity="0.3"/>
<line x1="390.8" y1="404" x2="390.8" y2="440" stroke="#E66101" stroke-width="1.2" stroke-opacity="0.3"/>
<line x1="393.4" y1="410" x2="393.4" y2="446" stroke="#E66101" stroke-width="1.2" stroke-opacity="0.3"/>
<line x1="397.4" y1="405" x2="397.4" y2="444" stroke="#E66101" stroke-width="1.2" stroke-opacity="0.3"/>
<line x1="403.9" y1="428" x2="403.9" y2="464" stroke="#E66101" stroke-width="1.2" stroke-opacity="0.3"/>
<line x1="407" y1="416" x2="407" y2="452" stroke="#E66101" stroke-width="1.2" stroke-opacity="0.3"/>
<line x1="411.3" y1="414" x2="411.3" y2="450" stroke="#E66101" stroke-width="1.2" stroke-opacity="0.3"/>
<line x1="415.7" y1="410" x2="415.7" y2="446" stroke="#E66101" stroke-width="1.2" stroke-opacity="0.3"/>
<line x1="417.4" y1="406" x2="417.4" y2="442" stroke="#E66101" stroke-width="1.2" stroke-opacity="0.3"/>
<line x1="420" y1="392" x2="420" y2="440" stroke="#E66101" stroke-width="1.2" stroke-opacity="0.3"/>
<line x1="421.7" y1="418" x2="421.7" y2="454" stroke="#E66101" stroke-width="1.2" stroke-opacity="0.3"/>
<line x1="424" y1="424" x2="424" y2="460" stroke="#E66101" stroke-width="1.2" stroke-opacity="0.3"/>
<line x1="426.1" y1="418" x2="426.1" y2="456" stroke="#E66101" stroke-width="1.2" stroke-opacity="0.3"/>
<line x1="429.2" y1="420" x2="429.2" y2="456" stroke="#E66101" stroke-width="1.2" stroke-opacity="0.3"/>
<line x1="432.7" y1="408" x2="432.7" y2="444" stroke="#E66101" stroke-width="1.2" stroke-opacity="0.3"/>
<line x1="435.7" y1="416" x2="435.7" y2="454" stroke="#E66101" stroke-width="1.2" stroke-opacity="0.3"/>
<line x1="438.3" y1="418" x2="438.3" y2="456" stroke="#E66101" stroke-width="1.2" stroke-opacity="0.3"/>
<line x1="439.1" y1="428" x2="439.1" y2="464" stroke="#E66101" stroke-width="1.2" stroke-opacity="0.3"/>
<line x1="441.7" y1="416" x2="441.7" y2="452" stroke="#E66101" stroke-width="1.2" stroke-opacity="0.3"/>
<line x1="444.3" y1="416" x2="444.3" y2="452" stroke="#E66101" stroke-width="1.2" stroke-opacity="0.3"/>
<line x1="447.8" y1="414" x2="447.8" y2="452" stroke="#E66101" stroke-width="1.2" stroke-opacity="0.3"/>
<line x1="450.4" y1="420" x2="450.4" y2="456" stroke="#E66101" stroke-width="1.2" stroke-opacity="0.3"/>
<line x1="453" y1="418" x2="453" y2="456" stroke="#E66101" stroke-width="1.2" stroke-opacity="0.3"/>
<line x1="455.7" y1="422" x2="455.7" y2="458" stroke="#E66101" stroke-width="1.2" stroke-opacity="0.3"/>
<line x1="458.3" y1="416" x2="458.3" y2="452" stroke="#E66101" stroke-width="1.2" stroke-opacity="0.3"/>
<line x1="460.9" y1="410" x2="460.9" y2="446" stroke="#E66101" stroke-width="1.2" stroke-opacity="0.3"/>
<line x1="464" y1="414" x2="464" y2="450" stroke="#E66101" stroke-width="1.2" stroke-opacity="0.3"/>
<line x1="467" y1="416" x2="467" y2="454" stroke="#E66101" stroke-width="1.2" stroke-opacity="0.3"/>
<line x1="469.6" y1="420" x2="469.6" y2="456" stroke="#E66101" stroke-width="1.2" stroke-opacity="0.3"/>
<line x1="471.3" y1="418" x2="471.3" y2="456" stroke="#E66101" stroke-width="1.2" stroke-opacity="0.3"/>
<line x1="474.4" y1="414" x2="474.4" y2="450" stroke="#E66101" stroke-width="1.2" stroke-opacity="0.3"/>
<line x1="477.4" y1="422" x2="477.4" y2="458" stroke="#E66101" stroke-width="1.2" stroke-opacity="0.3"/>
<line x1="481.7" y1="430.4" x2="481.7" y2="457.5" stroke="#E66101" stroke-width="1.2" stroke-opacity="0.3"/>
<line x1="492.7" y1="412.3" x2="492.7" y2="458.8" stroke="#E66101" stroke-width="1.2" stroke-opacity="0.3"/>
<line x1="519.4" y1="405.8" x2="519.4" y2="461.4" stroke="#E66101" stroke-width="1.2" stroke-opacity="0.3"/>
<polyline points="357.1,417 367.9,412.5 373.6,419.7 377.8,430.4 381.3,431.3 384.9,438.3 387.5,436.5 390.5,438.6 393.1,441.4 395.2,440 397.4,442.6 399.7,443.1 402.4,432.8 404.3,444 407,432.4 408.7,439.1 410.4,443 412.6,436.5 414.8,431.4 417.4,435.6 422.3,426 425.2,430.3 427.8,434.3 430.4,430.9 435.7,434.3 440,430.9 443.1,435.6 447,433.1 452.2,438.3 456.5,432.1 461.7,436.6 469.2,431.7 478.4,420.5 485.3,429.6 492.1,427.8 498.8,427.2 504.2,437.6 508.6,439.4 514.3,441.2 519.7,443.3 525.4,442.8 531.8,448 542.7,449.3 562.9,461.4" fill="none" stroke="#5E3C99" stroke-width="1.4" stroke-linejoin="round"/>
<polyline points="338.3,416.2 347.5,398.3 367.5,400.3 377.4,389.9 382.1,405.2 386.7,407.3 390.8,425.7 393.4,431.3 397.4,428.2 403.9,450 407,437.8 411.3,436.1 415.7,431.3 417.4,427.4 420,422.2 421.7,439.6 424,445.7 426.1,440.4 429.2,442.2 432.7,429.7 435.7,438.7 438.3,440.1 439.1,450 441.7,437.8 444.3,437 447.8,436.6 450.4,441.3 453,440.1 455.7,443.9 458.3,437.8 460.9,431.4 464,435.6 467,438.7 469.6,441.8 471.3,440.4 474.4,435.2 477.4,443.6 481.7,446.5 492.7,441.3 519.4,447.2" fill="none" stroke="#E66101" stroke-width="1.4" stroke-linejoin="round"/>
<circle cx="357.1" cy="417" r="1.9" fill="#5E3C99" stroke="#000" stroke-width="0.95"/>
<circle cx="367.9" cy="412.5" r="1.9" fill="#5E3C99" stroke="#000" stroke-width="0.95"/>
<circle cx="373.6" cy="419.7" r="1.9" fill="#5E3C99" stroke="#000" stroke-width="0.95"/>
<circle cx="377.8" cy="430.4" r="1.9" fill="#5E3C99" stroke="#000" stroke-width="0.95"/>
<circle cx="381.3" cy="431.3" r="1.9" fill="#5E3C99" stroke="#000" stroke-width="0.95"/>
<circle cx="384.9" cy="438.3" r="1.9" fill="#5E3C99" stroke="#000" stroke-width="0.95"/>
<circle cx="387.5" cy="436.5" r="1.9" fill="#5E3C99" stroke="#000" stroke-width="0.95"/>
<circle cx="390.5" cy="438.6" r="1.9" fill="#5E3C99" stroke="#000" stroke-width="0.95"/>
<circle cx="393.1" cy="441.4" r="1.9" fill="#5E3C99" stroke="#000" stroke-width="0.95"/>
<circle cx="395.2" cy="440" r="1.9" fill="#5E3C99" stroke="#000" stroke-width="0.95"/>
<circle cx="397.4" cy="442.6" r="1.9" fill="#5E3C99" stroke="#000" stroke-width="0.95"/>
<circle cx="399.7" cy="443.1" r="1.9" fill="#5E3C99" stroke="#000" stroke-width="0.95"/>
<circle cx="402.4" cy="432.8" r="1.9" fill="#5E3C99" stroke="#000" stroke-width="0.95"/>
<circle cx="404.3" cy="444" r="1.9" fill="#5E3C99" stroke="#000" stroke-width="0.95"/>
<circle cx="407" cy="432.4" r="1.9" fill="#5E3C99" stroke="#000" stroke-width="0.95"/>
<circle cx="408.7" cy="439.1" r="1.9" fill="#5E3C99" stroke="#000" stroke-width="0.95"/>
<circle cx="410.4" cy="443" r="1.9" fill="#5E3C99" stroke="#000" stroke-width="0.95"/>
<circle cx="412.6" cy="436.5" r="1.9" fill="#5E3C99" stroke="#000" stroke-width="0.95"/>
<circle cx="414.8" cy="431.4" r="1.9" fill="#5E3C99" stroke="#000" stroke-width="0.95"/>
<circle cx="417.4" cy="435.6" r="1.9" fill="#5E3C99" stroke="#000" stroke-width="0.95"/>
<circle cx="422.3" cy="426" r="1.9" fill="#5E3C99" stroke="#000" stroke-width="0.95"/>
<circle cx="425.2" cy="430.3" r="1.9" fill="#5E3C99" stroke="#000" stroke-width="0.95"/>
<circle cx="427.8" cy="434.3" r="1.9" fill="#5E3C99" stroke="#000" stroke-width="0.95"/>
<circle cx="430.4" cy="430.9" r="1.9" fill="#5E3C99" stroke="#000" stroke-width="0.95"/>
<circle cx="435.7" cy="434.3" r="1.9" fill="#5E3C99" stroke="#000" stroke-width="0.95"/>
<circle cx="440" cy="430.9" r="1.9" fill="#5E3C99" stroke="#000" stroke-width="0.95"/>
<circle cx="443.1" cy="435.6" r="1.9" fill="#5E3C99" stroke="#000" stroke-width="0.95"/>
<circle cx="447" cy="433.1" r="1.9" fill="#5E3C99" stroke="#000" stroke-width="0.95"/>
<circle cx="452.2" cy="438.3" r="1.9" fill="#5E3C99" stroke="#000" stroke-width="0.95"/>
<circle cx="456.5" cy="432.1" r="1.9" fill="#5E3C99" stroke="#000" stroke-width="0.95"/>
<circle cx="461.7" cy="436.6" r="1.9" fill="#5E3C99" stroke="#000" stroke-width="0.95"/>
<circle cx="469.2" cy="431.7" r="1.9" fill="#5E3C99" stroke="#000" stroke-width="0.95"/>
<circle cx="478.4" cy="420.5" r="1.9" fill="#5E3C99" stroke="#000" stroke-width="0.95"/>
<circle cx="485.3" cy="429.6" r="1.9" fill="#5E3C99" stroke="#000" stroke-width="0.95"/>
<circle cx="492.1" cy="427.8" r="1.9" fill="#5E3C99" stroke="#000" stroke-width="0.95"/>
<circle cx="498.8" cy="427.2" r="1.9" fill="#5E3C99" stroke="#000" stroke-width="0.95"/>
<circle cx="504.2" cy="437.6" r="1.9" fill="#5E3C99" stroke="#000" stroke-width="0.95"/>
<circle cx="508.6" cy="439.4" r="1.9" fill="#5E3C99" stroke="#000" stroke-width="0.95"/>
<circle cx="514.3" cy="441.2" r="1.9" fill="#5E3C99" stroke="#000" stroke-width="0.95"/>
<circle cx="519.7" cy="443.3" r="1.9" fill="#5E3C99" stroke="#000" stroke-width="0.95"/>
<circle cx="525.4" cy="442.8" r="1.9" fill="#5E3C99" stroke="#000" stroke-width="0.95"/>
<circle cx="531.8" cy="448" r="1.9" fill="#5E3C99" stroke="#000" stroke-width="0.95"/>
<circle cx="542.7" cy="449.3" r="1.9" fill="#5E3C99" stroke="#000" stroke-width="0.95"/>
<circle cx="562.9" cy="461.4" r="1.9" fill="#5E3C99" stroke="#000" stroke-width="0.95"/>
<circle cx="338.3" cy="416.2" r="1.9" fill="#E66101" stroke="#000" stroke-width="0.95"/>
<circle cx="347.5" cy="398.3" r="1.9" fill="#E66101" stroke="#000" stroke-width="0.95"/>
<circle cx="367.5" cy="400.3" r="1.9" fill="#E66101" stroke="#000" stroke-width="0.95"/>
<circle cx="377.4" cy="389.9" r="1.9" fill="#E66101" stroke="#000" stroke-width="0.95"/>
<circle cx="382.1" cy="405.2" r="1.9" fill="#E66101" stroke="#000" stroke-width="0.95"/>
<circle cx="386.7" cy="407.3" r="1.9" fill="#E66101" stroke="#000" stroke-width="0.95"/>
<circle cx="390.8" cy="425.7" r="1.9" fill="#E66101" stroke="#000" stroke-width="0.95"/>
<circle cx="393.4" cy="431.3" r="1.9" fill="#E66101" stroke="#000" stroke-width="0.95"/>
<circle cx="397.4" cy="428.2" r="1.9" fill="#E66101" stroke="#000" stroke-width="0.95"/>
<circle cx="403.9" cy="450" r="1.9" fill="#E66101" stroke="#000" stroke-width="0.95"/>
<circle cx="407" cy="437.8" r="1.9" fill="#E66101" stroke="#000" stroke-width="0.95"/>
<circle cx="411.3" cy="436.1" r="1.9" fill="#E66101" stroke="#000" stroke-width="0.95"/>
<circle cx="415.7" cy="431.3" r="1.9" fill="#E66101" stroke="#000" stroke-width="0.95"/>
<circle cx="417.4" cy="427.4" r="1.9" fill="#E66101" stroke="#000" stroke-width="0.95"/>
<circle cx="420" cy="422.2" r="1.9" fill="#E66101" stroke="#000" stroke-width="0.95"/>
<circle cx="421.7" cy="439.6" r="1.9" fill="#E66101" stroke="#000" stroke-width="0.95"/>
<circle cx="424" cy="445.7" r="1.9" fill="#E66101" stroke="#000" stroke-width="0.95"/>
<circle cx="426.1" cy="440.4" r="1.9" fill="#E66101" stroke="#000" stroke-width="0.95"/>
<circle cx="429.2" cy="442.2" r="1.9" fill="#E66101" stroke="#000" stroke-width="0.95"/>
<circle cx="432.7" cy="429.7" r="1.9" fill="#E66101" stroke="#000" stroke-width="0.95"/>
<circle cx="435.7" cy="438.7" r="1.9" fill="#E66101" stroke="#000" stroke-width="0.95"/>
<circle cx="438.3" cy="440.1" r="1.9" fill="#E66101" stroke="#000" stroke-width="0.95"/>
<circle cx="439.1" cy="450" r="1.9" fill="#E66101" stroke="#000" stroke-width="0.95"/>
<circle cx="441.7" cy="437.8" r="1.9" fill="#E66101" stroke="#000" stroke-width="0.95"/>
<circle cx="444.3" cy="437" r="1.9" fill="#E66101" stroke="#000" stroke-width="0.95"/>
<circle cx="447.8" cy="436.6" r="1.9" fill="#E66101" stroke="#000" stroke-width="0.95"/>
<circle cx="450.4" cy="441.3" r="1.9" fill="#E66101" stroke="#000" stroke-width="0.95"/>
<circle cx="453" cy="440.1" r="1.9" fill="#E66101" stroke="#000" stroke-width="0.95"/>
<circle cx="455.7" cy="443.9" r="1.9" fill="#E66101" stroke="#000" stroke-width="0.95"/>
<circle cx="458.3" cy="437.8" r="1.9" fill="#E66101" stroke="#000" stroke-width="0.95"/>
<circle cx="460.9" cy="431.4" r="1.9" fill="#E66101" stroke="#000" stroke-width="0.95"/>
<circle cx="464" cy="435.6" r="1.9" fill="#E66101" stroke="#000" stroke-width="0.95"/>
<circle cx="467" cy="438.7" r="1.9" fill="#E66101" stroke="#000" stroke-width="0.95"/>
<circle cx="469.6" cy="441.8" r="1.9" fill="#E66101" stroke="#000" stroke-width="0.95"/>
<circle cx="471.3" cy="440.4" r="1.9" fill="#E66101" stroke="#000" stroke-width="0.95"/>
<circle cx="474.4" cy="435.2" r="1.9" fill="#E66101" stroke="#000" stroke-width="0.95"/>
<circle cx="477.4" cy="443.6" r="1.9" fill="#E66101" stroke="#000" stroke-width="0.95"/>
<circle cx="481.7" cy="446.5" r="1.9" fill="#E66101" stroke="#000" stroke-width="0.95"/>
<circle cx="492.7" cy="441.3" r="1.9" fill="#E66101" stroke="#000" stroke-width="0.95"/>
<circle cx="519.4" cy="447.2" r="1.9" fill="#E66101" stroke="#000" stroke-width="0.95"/>
<rect x="327.5" y="357.5" width="246" height="170" fill="none" stroke="#333333" stroke-width="1.05"/>
<line x1="323.9" y1="488.1" x2="327.5" y2="488.1" stroke="#333333" stroke-width="1.4"/>
<text class="tk" x="320.7" y="492.1" font-size="11.2" fill="#4D4D4D" text-anchor="end">0</text>
<line x1="323.9" y1="445.5" x2="327.5" y2="445.5" stroke="#333333" stroke-width="1.4"/>
<text class="tk" x="320.7" y="449.5" font-size="11.2" fill="#4D4D4D" text-anchor="end">5</text>
<line x1="323.9" y1="402.9" x2="327.5" y2="402.9" stroke="#333333" stroke-width="1.4"/>
<text class="tk" x="320.7" y="406.9" font-size="11.2" fill="#4D4D4D" text-anchor="end">10</text>
<line x1="323.9" y1="360.3" x2="327.5" y2="360.3" stroke="#333333" stroke-width="1.4"/>
<text class="tk" x="320.7" y="364.3" font-size="11.2" fill="#4D4D4D" text-anchor="end">15</text>
<text class="tt" transform="translate(297.4,442.85) rotate(-90)" font-size="11.4" fill="#000" text-anchor="middle">Regrowth Rate (gC m<tspan font-size="8.8" dx="0.4" dy="-4.4">−2</tspan><tspan dx="0.3" dy="4.4"> y</tspan><tspan font-size="8.8" dx="0.4" dy="-4.4">−2</tspan><tspan dx="0.3" dy="4.4">)</tspan></text>
</g>
<line x1="365.19" y1="527.5" x2="365.19" y2="531.1" stroke="#333333" stroke-width="1.3"/>
<text class="tk" x="365.19" y="542.2" font-size="11.2" fill="#4D4D4D" text-anchor="middle">200</text>
<line x1="425.25" y1="527.5" x2="425.25" y2="531.1" stroke="#333333" stroke-width="1.3"/>
<text class="tk" x="425.25" y="542.2" font-size="11.2" fill="#4D4D4D" text-anchor="middle">400</text>
<line x1="485.31" y1="527.5" x2="485.31" y2="531.1" stroke="#333333" stroke-width="1.3"/>
<text class="tk" x="485.31" y="542.2" font-size="11.2" fill="#4D4D4D" text-anchor="middle">600</text>
<line x1="545.37" y1="527.5" x2="545.37" y2="531.1" stroke="#333333" stroke-width="1.3"/>
<text class="tk" x="545.37" y="542.2" font-size="11.2" fill="#4D4D4D" text-anchor="middle">800</text>
<text class="tl" x="450.5" y="575.9" font-size="14.1" fill="#000" text-anchor="middle">Climatic Water Deficit (CWD; mm)</text>
<rect x="64.7" y="546.6" width="188.3" height="31.7" fill="#fff" stroke="#999" stroke-width="0.9"/>
<rect x="79.9" y="554.7" width="16" height="15.6" fill="none" stroke="#E66101" stroke-width="1.3" rx="0.6"/>
<text class="tl" x="104.0" y="567.8" font-size="14.1" fill="#000">Unplanted</text>
<rect x="175" y="554.7" width="16" height="15.6" fill="none" stroke="#5E3C99" stroke-width="1.3" rx="0.6"/>
<text class="tl" x="199.2" y="567.8" font-size="14" fill="#000">Planted</text>
</svg></body></html>
